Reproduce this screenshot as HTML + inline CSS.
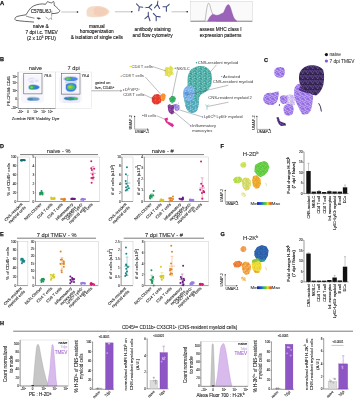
<!DOCTYPE html>
<html><head><meta charset="utf-8"><style>
html,body{margin:0;padding:0;background:#fff;}
svg{display:block;font-family:"Liberation Sans", sans-serif;will-change:transform;}
</style></head><body>
<svg width="355" height="400" viewBox="0 0 355 400">
<rect width="355" height="400" fill="#fff"/>
<defs><pattern id="pTeal" patternUnits="userSpaceOnUse" width="5" height="5"><rect width="5" height="5" fill="#44aca5"/><circle cx="2.26" cy="2.80" r="0.28" fill="#d6efec"/><circle cx="4.62" cy="2.33" r="0.28" fill="#d6efec"/><circle cx="2.54" cy="2.94" r="0.28" fill="#d6efec"/><circle cx="0.92" cy="2.56" r="0.28" fill="#d6efec"/><circle cx="3.15" cy="3.96" r="0.28" fill="#d6efec"/><circle cx="0.47" cy="1.52" r="0.28" fill="#d6efec"/><circle cx="0.45" cy="4.05" r="0.28" fill="#d6efec"/><circle cx="3.47" cy="0.21" r="0.28" fill="#d6efec"/><circle cx="4.91" cy="4.82" r="0.28" fill="#d6efec"/><circle cx="3.27" cy="3.08" r="0.28" fill="#d6efec"/><circle cx="0.79" cy="0.08" r="0.28" fill="#d6efec"/><circle cx="2.64" cy="0.30" r="0.28" fill="#d6efec"/><circle cx="0.95" cy="1.21" r="0.28" fill="#d6efec"/><circle cx="0.15" cy="2.32" r="0.28" fill="#d6efec"/><circle cx="2.20" cy="4.21" r="0.28" fill="#d6efec"/><circle cx="2.60" cy="3.20" r="0.28" fill="#d6efec"/><circle cx="2.50" cy="3.31" r="0.28" fill="#d6efec"/><circle cx="2.29" cy="1.39" r="0.28" fill="#d6efec"/><circle cx="4.99" cy="4.98" r="0.28" fill="#d6efec"/><circle cx="4.20" cy="3.54" r="0.28" fill="#d6efec"/><circle cx="1.58" cy="1.15" r="0.28" fill="#d6efec"/><circle cx="1.45" cy="0.35" r="0.28" fill="#d6efec"/><circle cx="3.83" cy="2.00" r="0.28" fill="#d6efec"/><circle cx="4.23" cy="1.93" r="0.28" fill="#d6efec"/><circle cx="4.79" cy="4.24" r="0.28" fill="#d6efec"/><circle cx="0.00" cy="1.05" r="0.28" fill="#d6efec"/><circle cx="4.55" cy="2.35" r="0.28" fill="#d6efec"/><circle cx="4.90" cy="1.99" r="0.28" fill="#d6efec"/><circle cx="0.37" cy="3.15" r="0.3" fill="#1f807a"/><circle cx="3.89" cy="1.35" r="0.3" fill="#1f807a"/><circle cx="0.44" cy="1.66" r="0.3" fill="#1f807a"/><circle cx="4.82" cy="3.79" r="0.3" fill="#1f807a"/><circle cx="0.59" cy="1.23" r="0.3" fill="#1f807a"/><circle cx="0.51" cy="0.30" r="0.3" fill="#1f807a"/><circle cx="3.99" cy="0.89" r="0.3" fill="#1f807a"/><circle cx="2.80" cy="2.24" r="0.3" fill="#1f807a"/><circle cx="0.95" cy="3.66" r="0.3" fill="#1f807a"/><circle cx="0.65" cy="3.22" r="0.3" fill="#1f807a"/><circle cx="0.58" cy="2.10" r="0.3" fill="#1f807a"/><circle cx="1.06" cy="1.35" r="0.3" fill="#1f807a"/><circle cx="4.85" cy="4.02" r="0.3" fill="#1f807a"/><circle cx="1.52" cy="4.42" r="0.3" fill="#1f807a"/></pattern><pattern id="pTeal2" patternUnits="userSpaceOnUse" width="5" height="5"><rect width="5" height="5" fill="#52aebf"/><circle cx="2.37" cy="3.29" r="0.28" fill="#e0f2f4"/><circle cx="3.33" cy="0.71" r="0.28" fill="#e0f2f4"/><circle cx="0.05" cy="1.87" r="0.28" fill="#e0f2f4"/><circle cx="1.37" cy="4.05" r="0.28" fill="#e0f2f4"/><circle cx="3.45" cy="3.01" r="0.28" fill="#e0f2f4"/><circle cx="2.79" cy="3.31" r="0.28" fill="#e0f2f4"/><circle cx="0.73" cy="2.20" r="0.28" fill="#e0f2f4"/><circle cx="0.81" cy="4.53" r="0.28" fill="#e0f2f4"/><circle cx="0.29" cy="4.09" r="0.28" fill="#e0f2f4"/><circle cx="0.37" cy="3.43" r="0.28" fill="#e0f2f4"/><circle cx="1.68" cy="2.02" r="0.28" fill="#e0f2f4"/><circle cx="4.21" cy="0.09" r="0.28" fill="#e0f2f4"/><circle cx="0.30" cy="4.58" r="0.28" fill="#e0f2f4"/><circle cx="2.54" cy="0.45" r="0.28" fill="#e0f2f4"/><circle cx="4.94" cy="4.73" r="0.28" fill="#e0f2f4"/><circle cx="0.56" cy="2.12" r="0.28" fill="#e0f2f4"/><circle cx="0.68" cy="1.56" r="0.28" fill="#e0f2f4"/><circle cx="3.11" cy="0.82" r="0.28" fill="#e0f2f4"/><circle cx="3.48" cy="0.26" r="0.28" fill="#e0f2f4"/><circle cx="0.86" cy="4.08" r="0.28" fill="#e0f2f4"/><circle cx="2.00" cy="2.09" r="0.3" fill="#2a8a84"/><circle cx="2.98" cy="2.38" r="0.3" fill="#2a8a84"/><circle cx="1.92" cy="0.15" r="0.3" fill="#2a8a84"/><circle cx="3.63" cy="4.84" r="0.3" fill="#2a8a84"/><circle cx="4.88" cy="3.32" r="0.3" fill="#2a8a84"/><circle cx="1.78" cy="1.82" r="0.3" fill="#2a8a84"/><circle cx="3.45" cy="3.37" r="0.3" fill="#2a8a84"/><circle cx="0.57" cy="1.17" r="0.3" fill="#2a8a84"/><circle cx="1.82" cy="2.56" r="0.3" fill="#2a8a84"/><circle cx="4.05" cy="2.50" r="0.3" fill="#2a8a84"/><circle cx="0.14" cy="4.11" r="0.3" fill="#6aa8e6"/><circle cx="2.15" cy="2.59" r="0.3" fill="#6aa8e6"/><circle cx="1.11" cy="2.14" r="0.3" fill="#6aa8e6"/><circle cx="1.94" cy="3.86" r="0.3" fill="#6aa8e6"/><circle cx="0.51" cy="2.75" r="0.3" fill="#6aa8e6"/><circle cx="0.89" cy="3.48" r="0.3" fill="#6aa8e6"/><circle cx="0.18" cy="1.38" r="0.3" fill="#6aa8e6"/><circle cx="1.72" cy="3.18" r="0.3" fill="#6aa8e6"/></pattern><pattern id="pBlue" patternUnits="userSpaceOnUse" width="5" height="5"><rect width="5" height="5" fill="#7ab2ea"/><circle cx="1.30" cy="3.43" r="0.3" fill="#e0eefa"/><circle cx="3.42" cy="4.25" r="0.3" fill="#e0eefa"/><circle cx="0.93" cy="1.15" r="0.3" fill="#e0eefa"/><circle cx="0.74" cy="1.13" r="0.3" fill="#e0eefa"/><circle cx="3.67" cy="0.65" r="0.3" fill="#e0eefa"/><circle cx="2.66" cy="1.07" r="0.3" fill="#e0eefa"/><circle cx="1.47" cy="2.16" r="0.3" fill="#e0eefa"/><circle cx="4.19" cy="3.04" r="0.3" fill="#e0eefa"/><circle cx="0.07" cy="1.38" r="0.3" fill="#e0eefa"/><circle cx="0.73" cy="4.36" r="0.3" fill="#e0eefa"/><circle cx="4.05" cy="4.03" r="0.3" fill="#e0eefa"/><circle cx="4.13" cy="3.72" r="0.3" fill="#e0eefa"/><circle cx="4.75" cy="3.97" r="0.3" fill="#e0eefa"/><circle cx="1.28" cy="4.25" r="0.3" fill="#e0eefa"/><circle cx="2.43" cy="3.78" r="0.3" fill="#e0eefa"/><circle cx="2.82" cy="2.15" r="0.3" fill="#e0eefa"/><circle cx="1.82" cy="2.15" r="0.34" fill="#4a8ade"/><circle cx="1.57" cy="0.59" r="0.34" fill="#4a8ade"/><circle cx="4.10" cy="3.99" r="0.34" fill="#4a8ade"/><circle cx="4.93" cy="3.45" r="0.34" fill="#4a8ade"/><circle cx="2.77" cy="3.74" r="0.34" fill="#4a8ade"/><circle cx="0.67" cy="3.38" r="0.34" fill="#4a8ade"/><circle cx="2.22" cy="0.88" r="0.34" fill="#4a8ade"/><circle cx="1.01" cy="2.61" r="0.34" fill="#4a8ade"/><circle cx="1.27" cy="2.30" r="0.34" fill="#4a8ade"/><circle cx="3.03" cy="1.98" r="0.34" fill="#4a8ade"/><circle cx="0.65" cy="2.45" r="0.34" fill="#4a8ade"/><circle cx="1.18" cy="1.18" r="0.34" fill="#4a8ade"/></pattern><pattern id="pYel" patternUnits="userSpaceOnUse" width="4" height="4"><rect width="4" height="4" fill="#e4e03a"/><circle cx="0.43" cy="2.81" r="0.34" fill="#f6f4b0"/><circle cx="2.61" cy="3.76" r="0.34" fill="#f6f4b0"/><circle cx="1.08" cy="1.02" r="0.34" fill="#f6f4b0"/><circle cx="2.94" cy="2.63" r="0.34" fill="#f6f4b0"/><circle cx="1.21" cy="2.74" r="0.34" fill="#f6f4b0"/><circle cx="1.59" cy="3.11" r="0.34" fill="#f6f4b0"/><circle cx="0.47" cy="0.89" r="0.34" fill="#f6f4b0"/><circle cx="3.61" cy="1.43" r="0.34" fill="#f6f4b0"/><circle cx="1.04" cy="3.22" r="0.34" fill="#f6f4b0"/><circle cx="2.53" cy="0.60" r="0.34" fill="#f6f4b0"/><circle cx="2.21" cy="2.66" r="0.34" fill="#f6f4b0"/><circle cx="0.66" cy="2.61" r="0.34" fill="#f6f4b0"/><circle cx="0.49" cy="1.35" r="0.34" fill="#f6f4b0"/><circle cx="0.33" cy="0.82" r="0.34" fill="#f6f4b0"/><circle cx="3.91" cy="1.61" r="0.3" fill="#c8c820"/><circle cx="3.96" cy="1.75" r="0.3" fill="#c8c820"/><circle cx="2.43" cy="3.49" r="0.3" fill="#c8c820"/><circle cx="2.75" cy="0.45" r="0.3" fill="#c8c820"/><circle cx="2.36" cy="2.53" r="0.3" fill="#c8c820"/><circle cx="0.72" cy="0.38" r="0.3" fill="#c8c820"/></pattern><pattern id="pRed" patternUnits="userSpaceOnUse" width="4" height="4"><rect width="4" height="4" fill="#e8382c"/><circle cx="3.86" cy="0.05" r="0.34" fill="#f3806a"/><circle cx="2.94" cy="0.63" r="0.34" fill="#f3806a"/><circle cx="3.95" cy="0.07" r="0.34" fill="#f3806a"/><circle cx="3.52" cy="2.73" r="0.34" fill="#f3806a"/><circle cx="3.43" cy="4.00" r="0.34" fill="#f3806a"/><circle cx="0.96" cy="1.35" r="0.34" fill="#f3806a"/><circle cx="2.83" cy="1.12" r="0.34" fill="#f3806a"/><circle cx="1.05" cy="0.91" r="0.34" fill="#f3806a"/><circle cx="3.43" cy="3.50" r="0.34" fill="#f3806a"/><circle cx="3.19" cy="0.89" r="0.34" fill="#f3806a"/><circle cx="3.70" cy="2.05" r="0.3" fill="#c82020"/><circle cx="0.93" cy="1.82" r="0.3" fill="#c82020"/><circle cx="1.68" cy="0.32" r="0.3" fill="#c82020"/><circle cx="2.26" cy="1.44" r="0.3" fill="#c82020"/><circle cx="2.28" cy="3.72" r="0.3" fill="#c82020"/><circle cx="2.58" cy="1.62" r="0.3" fill="#c82020"/></pattern><pattern id="pOra" patternUnits="userSpaceOnUse" width="4" height="4"><rect width="4" height="4" fill="#f4912c"/><circle cx="1.45" cy="1.92" r="0.34" fill="#f8c080"/><circle cx="1.67" cy="1.79" r="0.34" fill="#f8c080"/><circle cx="1.64" cy="2.63" r="0.34" fill="#f8c080"/><circle cx="1.04" cy="2.54" r="0.34" fill="#f8c080"/><circle cx="0.04" cy="1.21" r="0.34" fill="#f8c080"/><circle cx="1.34" cy="0.57" r="0.34" fill="#f8c080"/><circle cx="2.97" cy="1.24" r="0.34" fill="#f8c080"/><circle cx="3.16" cy="3.82" r="0.34" fill="#f8c080"/></pattern><pattern id="pGrn" patternUnits="userSpaceOnUse" width="4" height="4"><rect width="4" height="4" fill="#2fae5c"/><circle cx="2.09" cy="3.23" r="0.32" fill="#80d098"/><circle cx="3.84" cy="1.16" r="0.32" fill="#80d098"/><circle cx="3.06" cy="2.82" r="0.32" fill="#80d098"/><circle cx="2.65" cy="0.44" r="0.32" fill="#80d098"/><circle cx="0.11" cy="1.54" r="0.32" fill="#80d098"/><circle cx="2.99" cy="1.01" r="0.32" fill="#80d098"/><circle cx="2.01" cy="1.27" r="0.32" fill="#80d098"/><circle cx="3.39" cy="3.78" r="0.32" fill="#80d098"/><circle cx="1.61" cy="3.99" r="0.3" fill="#1c8e48"/><circle cx="0.25" cy="3.25" r="0.3" fill="#1c8e48"/><circle cx="3.50" cy="0.60" r="0.3" fill="#1c8e48"/><circle cx="2.82" cy="2.24" r="0.3" fill="#1c8e48"/><circle cx="3.82" cy="0.84" r="0.3" fill="#1c8e48"/></pattern><pattern id="pPur" patternUnits="userSpaceOnUse" width="4" height="4"><rect width="4" height="4" fill="#7f3294"/><circle cx="0.73" cy="2.65" r="0.32" fill="#c8a8e0"/><circle cx="1.34" cy="0.79" r="0.32" fill="#c8a8e0"/><circle cx="1.96" cy="1.98" r="0.32" fill="#c8a8e0"/><circle cx="1.92" cy="1.83" r="0.32" fill="#c8a8e0"/><circle cx="1.06" cy="1.02" r="0.32" fill="#c8a8e0"/><circle cx="2.77" cy="1.30" r="0.32" fill="#c8a8e0"/><circle cx="2.70" cy="3.15" r="0.32" fill="#c8a8e0"/><circle cx="3.46" cy="3.78" r="0.32" fill="#c8a8e0"/><circle cx="0.94" cy="0.95" r="0.32" fill="#c8a8e0"/><circle cx="2.94" cy="2.30" r="0.32" fill="#c8a8e0"/><circle cx="0.81" cy="2.71" r="0.3" fill="#5a1a70"/><circle cx="3.49" cy="3.34" r="0.3" fill="#5a1a70"/><circle cx="0.86" cy="1.20" r="0.3" fill="#5a1a70"/><circle cx="0.03" cy="3.90" r="0.3" fill="#5a1a70"/><circle cx="0.88" cy="2.91" r="0.3" fill="#5a1a70"/><circle cx="2.15" cy="2.37" r="0.3" fill="#5a1a70"/></pattern><pattern id="pLav" patternUnits="userSpaceOnUse" width="4" height="4"><rect width="4" height="4" fill="#9e84dc"/><circle cx="2.71" cy="3.14" r="0.32" fill="#e0d8f4"/><circle cx="2.08" cy="2.05" r="0.32" fill="#e0d8f4"/><circle cx="1.57" cy="3.99" r="0.32" fill="#e0d8f4"/><circle cx="1.16" cy="0.59" r="0.32" fill="#e0d8f4"/><circle cx="1.04" cy="1.04" r="0.32" fill="#e0d8f4"/><circle cx="1.31" cy="1.07" r="0.32" fill="#e0d8f4"/><circle cx="0.43" cy="1.30" r="0.32" fill="#e0d8f4"/><circle cx="1.24" cy="2.28" r="0.32" fill="#e0d8f4"/><circle cx="0.81" cy="0.28" r="0.32" fill="#e0d8f4"/><circle cx="0.81" cy="2.17" r="0.32" fill="#e0d8f4"/><circle cx="1.55" cy="2.93" r="0.3" fill="#7c5cc8"/><circle cx="3.21" cy="1.66" r="0.3" fill="#7c5cc8"/><circle cx="0.40" cy="2.91" r="0.3" fill="#7c5cc8"/><circle cx="3.02" cy="1.58" r="0.3" fill="#7c5cc8"/><circle cx="2.63" cy="1.20" r="0.3" fill="#7c5cc8"/><circle cx="3.66" cy="3.34" r="0.3" fill="#7c5cc8"/></pattern><pattern id="pMag" patternUnits="userSpaceOnUse" width="4" height="4"><rect width="4" height="4" fill="#e0288c"/><circle cx="3.62" cy="2.75" r="0.3" fill="#f080c0"/><circle cx="3.07" cy="3.62" r="0.3" fill="#f080c0"/><circle cx="1.04" cy="2.54" r="0.3" fill="#f080c0"/><circle cx="3.62" cy="3.49" r="0.3" fill="#f080c0"/><circle cx="2.29" cy="0.68" r="0.3" fill="#f080c0"/><circle cx="1.65" cy="3.98" r="0.3" fill="#f080c0"/></pattern><pattern id="pCP" patternUnits="userSpaceOnUse" width="5" height="5"><rect width="5" height="5" fill="#9a72e8"/><circle cx="0.82" cy="3.45" r="0.32" fill="#f0eafc"/><circle cx="3.17" cy="2.40" r="0.32" fill="#f0eafc"/><circle cx="1.08" cy="3.96" r="0.32" fill="#f0eafc"/><circle cx="4.04" cy="2.56" r="0.32" fill="#f0eafc"/><circle cx="2.53" cy="1.18" r="0.32" fill="#f0eafc"/><circle cx="0.02" cy="1.86" r="0.32" fill="#f0eafc"/><circle cx="2.93" cy="0.35" r="0.32" fill="#f0eafc"/><circle cx="3.97" cy="1.16" r="0.32" fill="#f0eafc"/><circle cx="1.16" cy="0.21" r="0.32" fill="#f0eafc"/><circle cx="4.99" cy="3.69" r="0.32" fill="#f0eafc"/><circle cx="4.38" cy="3.08" r="0.32" fill="#f0eafc"/><circle cx="0.17" cy="1.64" r="0.32" fill="#f0eafc"/><circle cx="2.49" cy="0.58" r="0.32" fill="#f0eafc"/><circle cx="4.76" cy="1.84" r="0.32" fill="#f0eafc"/><circle cx="0.77" cy="4.09" r="0.32" fill="#f0eafc"/><circle cx="0.62" cy="4.64" r="0.32" fill="#f0eafc"/><circle cx="2.27" cy="2.76" r="0.32" fill="#f0eafc"/><circle cx="1.71" cy="2.42" r="0.32" fill="#f0eafc"/><circle cx="0.93" cy="0.19" r="0.32" fill="#f0eafc"/><circle cx="4.33" cy="1.17" r="0.32" fill="#f0eafc"/><circle cx="3.90" cy="1.04" r="0.32" fill="#f0eafc"/><circle cx="4.84" cy="4.47" r="0.32" fill="#f0eafc"/><circle cx="3.77" cy="3.81" r="0.3" fill="#6d44c4"/><circle cx="2.90" cy="3.65" r="0.3" fill="#6d44c4"/><circle cx="0.61" cy="2.38" r="0.3" fill="#6d44c4"/><circle cx="4.14" cy="1.01" r="0.3" fill="#6d44c4"/><circle cx="4.62" cy="4.44" r="0.3" fill="#6d44c4"/><circle cx="2.05" cy="1.83" r="0.3" fill="#6d44c4"/><circle cx="2.26" cy="1.93" r="0.3" fill="#6d44c4"/><circle cx="4.97" cy="1.93" r="0.3" fill="#6d44c4"/><circle cx="0.13" cy="0.47" r="0.3" fill="#6d44c4"/><circle cx="3.59" cy="4.96" r="0.3" fill="#6d44c4"/></pattern><pattern id="pCP2" patternUnits="userSpaceOnUse" width="5" height="5"><rect width="5" height="5" fill="#9d76e2"/><circle cx="4.79" cy="0.70" r="0.36" fill="#ffffff"/><circle cx="0.12" cy="4.99" r="0.36" fill="#ffffff"/><circle cx="0.92" cy="0.60" r="0.36" fill="#ffffff"/><circle cx="3.26" cy="1.73" r="0.36" fill="#ffffff"/><circle cx="4.45" cy="1.16" r="0.36" fill="#ffffff"/><circle cx="4.80" cy="1.60" r="0.36" fill="#ffffff"/><circle cx="3.01" cy="4.66" r="0.36" fill="#ffffff"/><circle cx="3.43" cy="4.62" r="0.36" fill="#ffffff"/><circle cx="3.54" cy="0.24" r="0.36" fill="#ffffff"/><circle cx="4.41" cy="2.95" r="0.36" fill="#ffffff"/><circle cx="1.55" cy="0.95" r="0.36" fill="#ffffff"/><circle cx="4.25" cy="2.91" r="0.36" fill="#ffffff"/><circle cx="4.69" cy="3.87" r="0.36" fill="#ffffff"/><circle cx="4.81" cy="2.83" r="0.36" fill="#ffffff"/><circle cx="3.49" cy="3.06" r="0.36" fill="#ffffff"/><circle cx="1.29" cy="4.78" r="0.36" fill="#ffffff"/><circle cx="1.56" cy="3.91" r="0.36" fill="#ffffff"/><circle cx="4.77" cy="3.25" r="0.36" fill="#ffffff"/><circle cx="0.71" cy="4.13" r="0.36" fill="#ffffff"/><circle cx="3.34" cy="0.93" r="0.36" fill="#ffffff"/><circle cx="0.25" cy="2.66" r="0.36" fill="#ffffff"/><circle cx="0.16" cy="4.63" r="0.36" fill="#ffffff"/><circle cx="2.53" cy="2.59" r="0.36" fill="#ffffff"/><circle cx="2.05" cy="3.30" r="0.36" fill="#ffffff"/><circle cx="4.58" cy="1.54" r="0.36" fill="#ffffff"/><circle cx="1.87" cy="2.91" r="0.36" fill="#ffffff"/><circle cx="1.49" cy="2.98" r="0.3" fill="#6d44c4"/><circle cx="2.72" cy="2.17" r="0.3" fill="#6d44c4"/><circle cx="3.37" cy="2.64" r="0.3" fill="#6d44c4"/><circle cx="0.44" cy="4.98" r="0.3" fill="#6d44c4"/><circle cx="1.78" cy="2.16" r="0.3" fill="#6d44c4"/><circle cx="2.01" cy="4.65" r="0.3" fill="#6d44c4"/><circle cx="4.76" cy="2.56" r="0.3" fill="#6d44c4"/><circle cx="2.00" cy="0.48" r="0.3" fill="#6d44c4"/></pattern><pattern id="pCD" patternUnits="userSpaceOnUse" width="5" height="5"><rect width="5" height="5" fill="#36264f"/><circle cx="4.62" cy="4.74" r="0.3" fill="#8868d4"/><circle cx="4.46" cy="0.42" r="0.3" fill="#8868d4"/><circle cx="2.96" cy="2.12" r="0.3" fill="#8868d4"/><circle cx="2.65" cy="0.65" r="0.3" fill="#8868d4"/><circle cx="0.96" cy="2.22" r="0.3" fill="#8868d4"/><circle cx="1.11" cy="2.28" r="0.3" fill="#8868d4"/><circle cx="0.12" cy="0.43" r="0.3" fill="#8868d4"/><circle cx="3.55" cy="2.11" r="0.3" fill="#8868d4"/><circle cx="2.56" cy="3.67" r="0.3" fill="#8868d4"/><circle cx="1.79" cy="0.29" r="0.3" fill="#8868d4"/><circle cx="3.92" cy="2.95" r="0.3" fill="#8868d4"/><circle cx="3.29" cy="3.10" r="0.3" fill="#8868d4"/><circle cx="4.85" cy="1.81" r="0.3" fill="#8868d4"/><circle cx="3.80" cy="1.84" r="0.3" fill="#8868d4"/><circle cx="2.86" cy="3.30" r="0.3" fill="#8868d4"/><circle cx="1.57" cy="0.43" r="0.3" fill="#8868d4"/><circle cx="2.37" cy="3.59" r="0.3" fill="#8868d4"/><circle cx="2.95" cy="2.24" r="0.3" fill="#8868d4"/><circle cx="3.21" cy="0.91" r="0.3" fill="#8868d4"/><circle cx="0.89" cy="1.62" r="0.3" fill="#8868d4"/><circle cx="4.08" cy="0.98" r="0.3" fill="#8868d4"/><circle cx="0.57" cy="0.49" r="0.3" fill="#8868d4"/><circle cx="0.19" cy="1.38" r="0.3" fill="#8868d4"/><circle cx="2.86" cy="4.10" r="0.3" fill="#8868d4"/><circle cx="1.65" cy="1.85" r="0.3" fill="#8868d4"/><circle cx="1.44" cy="1.52" r="0.3" fill="#8868d4"/><circle cx="3.89" cy="2.74" r="0.3" fill="#120a20"/><circle cx="1.29" cy="0.54" r="0.3" fill="#120a20"/><circle cx="3.92" cy="3.54" r="0.3" fill="#120a20"/><circle cx="4.14" cy="1.19" r="0.3" fill="#120a20"/><circle cx="2.73" cy="4.59" r="0.3" fill="#120a20"/><circle cx="2.96" cy="4.73" r="0.3" fill="#120a20"/><circle cx="0.84" cy="4.88" r="0.3" fill="#120a20"/><circle cx="0.28" cy="2.08" r="0.3" fill="#120a20"/><circle cx="0.12" cy="4.05" r="0.3" fill="#120a20"/><circle cx="3.44" cy="4.87" r="0.3" fill="#120a20"/><circle cx="4.02" cy="4.74" r="0.3" fill="#120a20"/><circle cx="2.69" cy="4.94" r="0.3" fill="#120a20"/></pattern><pattern id="pCM" patternUnits="userSpaceOnUse" width="5" height="5"><rect width="5" height="5" fill="#4a2f78"/><circle cx="3.56" cy="4.20" r="0.32" fill="#9a78e0"/><circle cx="0.91" cy="4.99" r="0.32" fill="#9a78e0"/><circle cx="0.97" cy="3.35" r="0.32" fill="#9a78e0"/><circle cx="0.46" cy="3.79" r="0.32" fill="#9a78e0"/><circle cx="0.76" cy="3.53" r="0.32" fill="#9a78e0"/><circle cx="3.62" cy="3.83" r="0.32" fill="#9a78e0"/><circle cx="2.21" cy="4.33" r="0.32" fill="#9a78e0"/><circle cx="4.94" cy="0.58" r="0.32" fill="#9a78e0"/><circle cx="2.58" cy="4.79" r="0.32" fill="#9a78e0"/><circle cx="3.70" cy="2.22" r="0.32" fill="#9a78e0"/><circle cx="1.52" cy="4.77" r="0.32" fill="#9a78e0"/><circle cx="0.43" cy="3.80" r="0.32" fill="#9a78e0"/><circle cx="4.22" cy="0.79" r="0.32" fill="#9a78e0"/><circle cx="1.63" cy="1.53" r="0.32" fill="#9a78e0"/><circle cx="2.71" cy="1.83" r="0.3" fill="#1a1030"/><circle cx="4.47" cy="4.62" r="0.3" fill="#1a1030"/><circle cx="1.58" cy="4.47" r="0.3" fill="#1a1030"/><circle cx="0.35" cy="0.48" r="0.3" fill="#1a1030"/><circle cx="3.33" cy="4.00" r="0.3" fill="#1a1030"/><circle cx="4.10" cy="4.96" r="0.3" fill="#1a1030"/><circle cx="4.30" cy="1.33" r="0.3" fill="#1a1030"/><circle cx="3.71" cy="4.62" r="0.3" fill="#1a1030"/></pattern><pattern id="pFbig" patternUnits="userSpaceOnUse" width="5" height="5"><rect width="5" height="5" fill="#5ccc42"/><circle cx="0.06" cy="0.56" r="0.4" fill="#9ae468"/><circle cx="1.96" cy="3.42" r="0.4" fill="#9ae468"/><circle cx="0.69" cy="0.56" r="0.4" fill="#9ae468"/><circle cx="1.16" cy="3.79" r="0.4" fill="#9ae468"/><circle cx="0.74" cy="3.70" r="0.4" fill="#9ae468"/><circle cx="3.31" cy="0.68" r="0.4" fill="#9ae468"/><circle cx="2.68" cy="2.24" r="0.4" fill="#9ae468"/><circle cx="2.06" cy="4.98" r="0.4" fill="#9ae468"/><circle cx="0.47" cy="0.10" r="0.4" fill="#9ae468"/><circle cx="4.70" cy="2.01" r="0.4" fill="#9ae468"/><circle cx="0.99" cy="1.65" r="0.4" fill="#9ae468"/><circle cx="1.82" cy="4.78" r="0.4" fill="#9ae468"/><circle cx="1.05" cy="1.08" r="0.4" fill="#9ae468"/><circle cx="2.92" cy="2.74" r="0.4" fill="#9ae468"/><circle cx="4.77" cy="4.19" r="0.4" fill="#3cb830"/><circle cx="1.78" cy="1.02" r="0.4" fill="#3cb830"/><circle cx="4.18" cy="4.94" r="0.4" fill="#3cb830"/><circle cx="0.15" cy="3.68" r="0.4" fill="#3cb830"/><circle cx="4.34" cy="3.26" r="0.4" fill="#3cb830"/><circle cx="1.09" cy="3.98" r="0.4" fill="#3cb830"/><circle cx="3.65" cy="0.97" r="0.4" fill="#3cb830"/><circle cx="3.20" cy="1.10" r="0.4" fill="#3cb830"/><circle cx="0.21" cy="1.68" r="0.4" fill="#3cb830"/><circle cx="1.67" cy="1.98" r="0.4" fill="#3cb830"/><circle cx="3.23" cy="4.18" r="0.4" fill="#c8e040"/><circle cx="4.81" cy="4.88" r="0.4" fill="#c8e040"/><circle cx="4.97" cy="3.95" r="0.4" fill="#c8e040"/><circle cx="1.53" cy="0.88" r="0.4" fill="#c8e040"/></pattern><pattern id="pFora" patternUnits="userSpaceOnUse" width="5" height="5"><rect width="5" height="5" fill="#f0a828"/><circle cx="0.39" cy="1.07" r="0.42" fill="#f4cc48"/><circle cx="1.52" cy="4.50" r="0.42" fill="#f4cc48"/><circle cx="2.48" cy="3.60" r="0.42" fill="#f4cc48"/><circle cx="0.50" cy="2.54" r="0.42" fill="#f4cc48"/><circle cx="4.22" cy="2.61" r="0.42" fill="#f4cc48"/><circle cx="4.72" cy="4.41" r="0.42" fill="#f4cc48"/><circle cx="1.85" cy="0.00" r="0.42" fill="#f4cc48"/><circle cx="3.78" cy="0.63" r="0.42" fill="#f4cc48"/><circle cx="0.05" cy="3.65" r="0.42" fill="#f4cc48"/><circle cx="4.21" cy="4.18" r="0.42" fill="#f4cc48"/><circle cx="4.77" cy="1.01" r="0.42" fill="#f4cc48"/><circle cx="0.41" cy="0.60" r="0.42" fill="#f4cc48"/><circle cx="4.89" cy="0.56" r="0.42" fill="#e88a20"/><circle cx="0.80" cy="0.10" r="0.42" fill="#e88a20"/><circle cx="0.25" cy="0.19" r="0.42" fill="#e88a20"/><circle cx="1.77" cy="0.82" r="0.42" fill="#e88a20"/><circle cx="1.55" cy="4.64" r="0.42" fill="#e88a20"/><circle cx="0.84" cy="4.07" r="0.42" fill="#e88a20"/><circle cx="3.69" cy="2.84" r="0.42" fill="#e88a20"/><circle cx="2.88" cy="3.85" r="0.42" fill="#e88a20"/></pattern><pattern id="pFlc" patternUnits="userSpaceOnUse" width="5" height="5"><rect width="5" height="5" fill="#b8e048"/><circle cx="2.85" cy="3.16" r="0.42" fill="#e8e868"/><circle cx="4.09" cy="1.39" r="0.42" fill="#e8e868"/><circle cx="3.26" cy="4.45" r="0.42" fill="#e8e868"/><circle cx="4.54" cy="0.93" r="0.42" fill="#e8e868"/><circle cx="3.26" cy="3.09" r="0.42" fill="#e8e868"/><circle cx="2.52" cy="4.83" r="0.42" fill="#e8e868"/><circle cx="2.64" cy="2.23" r="0.42" fill="#e8e868"/><circle cx="4.72" cy="3.18" r="0.42" fill="#e8e868"/><circle cx="1.51" cy="1.55" r="0.42" fill="#e8e868"/><circle cx="2.48" cy="0.26" r="0.42" fill="#e8e868"/><circle cx="3.04" cy="3.68" r="0.42" fill="#e8e868"/><circle cx="2.13" cy="4.23" r="0.42" fill="#e8e868"/><circle cx="4.64" cy="2.78" r="0.42" fill="#84d040"/><circle cx="3.41" cy="0.59" r="0.42" fill="#84d040"/><circle cx="0.28" cy="4.90" r="0.42" fill="#84d040"/><circle cx="1.42" cy="1.07" r="0.42" fill="#84d040"/><circle cx="4.48" cy="3.75" r="0.42" fill="#84d040"/><circle cx="0.62" cy="1.61" r="0.42" fill="#84d040"/><circle cx="1.21" cy="1.36" r="0.42" fill="#84d040"/><circle cx="0.03" cy="2.62" r="0.42" fill="#84d040"/></pattern><pattern id="pFmc" patternUnits="userSpaceOnUse" width="5" height="5"><rect width="5" height="5" fill="#d8e070"/><circle cx="2.64" cy="2.93" r="0.4" fill="#ffffff"/><circle cx="4.22" cy="4.49" r="0.4" fill="#ffffff"/><circle cx="4.41" cy="1.82" r="0.4" fill="#ffffff"/><circle cx="4.74" cy="2.12" r="0.4" fill="#ffffff"/><circle cx="1.53" cy="0.47" r="0.4" fill="#ffffff"/><circle cx="2.56" cy="0.77" r="0.42" fill="#f0c040"/><circle cx="1.37" cy="3.05" r="0.42" fill="#f0c040"/><circle cx="3.88" cy="3.76" r="0.42" fill="#f0c040"/><circle cx="0.43" cy="0.31" r="0.42" fill="#f0c040"/><circle cx="1.28" cy="2.76" r="0.42" fill="#f0c040"/><circle cx="4.19" cy="4.00" r="0.42" fill="#f0c040"/><circle cx="4.67" cy="2.94" r="0.42" fill="#f0c040"/><circle cx="3.18" cy="1.46" r="0.42" fill="#f0c040"/><circle cx="1.57" cy="1.03" r="0.42" fill="#a0d848"/><circle cx="2.68" cy="3.04" r="0.42" fill="#a0d848"/><circle cx="2.87" cy="1.96" r="0.42" fill="#a0d848"/><circle cx="2.12" cy="1.24" r="0.42" fill="#a0d848"/><circle cx="4.08" cy="2.91" r="0.42" fill="#a0d848"/><circle cx="3.74" cy="4.06" r="0.42" fill="#a0d848"/><circle cx="1.40" cy="0.59" r="0.42" fill="#a0d848"/><circle cx="1.41" cy="4.54" r="0.42" fill="#a0d848"/></pattern><pattern id="pFsm" patternUnits="userSpaceOnUse" width="4" height="4"><rect width="4" height="4" fill="#c8e050"/><circle cx="2.19" cy="3.00" r="0.4" fill="#e8f080"/><circle cx="2.99" cy="3.46" r="0.4" fill="#e8f080"/><circle cx="1.14" cy="3.86" r="0.4" fill="#e8f080"/><circle cx="2.27" cy="2.99" r="0.4" fill="#e8f080"/><circle cx="3.02" cy="3.72" r="0.4" fill="#e8f080"/><circle cx="1.10" cy="1.47" r="0.4" fill="#e8f080"/><circle cx="2.87" cy="2.34" r="0.4" fill="#e8f080"/><circle cx="3.00" cy="1.46" r="0.4" fill="#e8f080"/></pattern><pattern id="pFlo" patternUnits="userSpaceOnUse" width="4" height="4"><rect width="4" height="4" fill="#ecec9c"/><circle cx="1.31" cy="3.93" r="0.4" fill="#ffffff"/><circle cx="3.84" cy="3.67" r="0.4" fill="#ffffff"/><circle cx="3.16" cy="3.50" r="0.4" fill="#ffffff"/><circle cx="0.00" cy="2.51" r="0.4" fill="#ffffff"/><circle cx="0.99" cy="2.92" r="0.4" fill="#ffffff"/><circle cx="1.73" cy="2.24" r="0.4" fill="#ffffff"/><circle cx="2.17" cy="2.30" r="0.4" fill="#ffffff"/><circle cx="3.31" cy="3.93" r="0.4" fill="#ffffff"/><circle cx="1.38" cy="3.22" r="0.4" fill="#e0d870"/><circle cx="3.56" cy="1.57" r="0.4" fill="#e0d870"/><circle cx="0.49" cy="1.99" r="0.4" fill="#e0d870"/><circle cx="3.06" cy="2.10" r="0.4" fill="#e0d870"/><circle cx="0.74" cy="2.82" r="0.4" fill="#e0d870"/><circle cx="1.30" cy="3.54" r="0.4" fill="#e0d870"/></pattern><pattern id="pGbig" patternUnits="userSpaceOnUse" width="5" height="5"><rect width="5" height="5" fill="#2e62b0"/><circle cx="1.91" cy="1.15" r="0.42" fill="#3e86c8"/><circle cx="0.83" cy="4.57" r="0.42" fill="#3e86c8"/><circle cx="2.89" cy="3.45" r="0.42" fill="#3e86c8"/><circle cx="2.77" cy="1.92" r="0.42" fill="#3e86c8"/><circle cx="3.66" cy="2.88" r="0.42" fill="#3e86c8"/><circle cx="3.91" cy="3.31" r="0.42" fill="#3e86c8"/><circle cx="4.20" cy="2.20" r="0.42" fill="#3e86c8"/><circle cx="0.78" cy="0.75" r="0.42" fill="#3e86c8"/><circle cx="3.62" cy="0.84" r="0.42" fill="#3e86c8"/><circle cx="3.27" cy="3.10" r="0.42" fill="#3e86c8"/><circle cx="0.30" cy="3.92" r="0.42" fill="#3e86c8"/><circle cx="0.17" cy="4.33" r="0.42" fill="#3e86c8"/><circle cx="4.21" cy="1.08" r="0.42" fill="#3e86c8"/><circle cx="3.63" cy="3.66" r="0.42" fill="#3e86c8"/><circle cx="0.63" cy="3.35" r="0.42" fill="#1e4890"/><circle cx="0.62" cy="4.57" r="0.42" fill="#1e4890"/><circle cx="3.44" cy="4.90" r="0.42" fill="#1e4890"/><circle cx="0.27" cy="1.59" r="0.42" fill="#1e4890"/><circle cx="3.10" cy="3.04" r="0.42" fill="#1e4890"/><circle cx="0.91" cy="4.44" r="0.42" fill="#1e4890"/><circle cx="4.23" cy="1.51" r="0.42" fill="#1e4890"/><circle cx="0.73" cy="3.34" r="0.42" fill="#1e4890"/><circle cx="2.04" cy="3.32" r="0.42" fill="#1e4890"/><circle cx="2.47" cy="1.97" r="0.42" fill="#1e4890"/></pattern><pattern id="pGyel" patternUnits="userSpaceOnUse" width="5" height="5"><rect width="5" height="5" fill="#f0dc30"/><circle cx="3.20" cy="0.13" r="0.42" fill="#f8ec70"/><circle cx="1.38" cy="1.12" r="0.42" fill="#f8ec70"/><circle cx="3.68" cy="3.38" r="0.42" fill="#f8ec70"/><circle cx="4.46" cy="0.43" r="0.42" fill="#f8ec70"/><circle cx="2.11" cy="0.15" r="0.42" fill="#f8ec70"/><circle cx="1.09" cy="2.53" r="0.42" fill="#f8ec70"/><circle cx="0.13" cy="0.99" r="0.42" fill="#f8ec70"/><circle cx="3.25" cy="2.72" r="0.42" fill="#f8ec70"/><circle cx="1.10" cy="2.95" r="0.42" fill="#f8ec70"/><circle cx="4.05" cy="0.03" r="0.42" fill="#f8ec70"/><circle cx="4.03" cy="3.49" r="0.42" fill="#f8ec70"/><circle cx="1.70" cy="0.78" r="0.42" fill="#f8ec70"/><circle cx="4.79" cy="1.68" r="0.42" fill="#e8b820"/><circle cx="0.46" cy="0.48" r="0.42" fill="#e8b820"/><circle cx="4.24" cy="3.02" r="0.42" fill="#e8b820"/><circle cx="4.04" cy="3.65" r="0.42" fill="#e8b820"/><circle cx="2.68" cy="4.87" r="0.42" fill="#e8b820"/><circle cx="1.89" cy="2.76" r="0.42" fill="#e8b820"/><circle cx="4.15" cy="3.09" r="0.42" fill="#e8b820"/><circle cx="4.31" cy="2.89" r="0.42" fill="#e8b820"/></pattern><pattern id="pGlc" patternUnits="userSpaceOnUse" width="5" height="5"><rect width="5" height="5" fill="#f07c34"/><circle cx="0.19" cy="3.48" r="0.42" fill="#f4a050"/><circle cx="0.72" cy="2.31" r="0.42" fill="#f4a050"/><circle cx="3.36" cy="3.96" r="0.42" fill="#f4a050"/><circle cx="2.27" cy="2.49" r="0.42" fill="#f4a050"/><circle cx="0.10" cy="2.16" r="0.42" fill="#f4a050"/><circle cx="1.86" cy="4.26" r="0.42" fill="#f4a050"/><circle cx="2.73" cy="3.78" r="0.42" fill="#f4a050"/><circle cx="2.17" cy="0.88" r="0.42" fill="#f4a050"/><circle cx="4.25" cy="4.10" r="0.42" fill="#f4a050"/><circle cx="1.88" cy="0.48" r="0.42" fill="#f4a050"/><circle cx="2.56" cy="2.48" r="0.42" fill="#f4a050"/><circle cx="3.86" cy="2.99" r="0.42" fill="#f4a050"/><circle cx="2.53" cy="2.88" r="0.42" fill="#e06020"/><circle cx="1.88" cy="0.24" r="0.42" fill="#e06020"/><circle cx="0.31" cy="4.71" r="0.42" fill="#e06020"/><circle cx="4.20" cy="1.48" r="0.42" fill="#e06020"/><circle cx="4.44" cy="2.61" r="0.42" fill="#e06020"/><circle cx="0.52" cy="4.28" r="0.42" fill="#e06020"/></pattern><pattern id="pGmc" patternUnits="userSpaceOnUse" width="5" height="5"><rect width="5" height="5" fill="#f0a040"/><circle cx="2.04" cy="2.71" r="0.4" fill="#ffffff"/><circle cx="4.31" cy="0.88" r="0.4" fill="#ffffff"/><circle cx="1.13" cy="0.15" r="0.4" fill="#ffffff"/><circle cx="0.58" cy="0.04" r="0.4" fill="#ffffff"/><circle cx="0.78" cy="2.57" r="0.42" fill="#f8c860"/><circle cx="4.95" cy="3.47" r="0.42" fill="#f8c860"/><circle cx="1.89" cy="2.03" r="0.42" fill="#f8c860"/><circle cx="3.46" cy="1.63" r="0.42" fill="#f8c860"/><circle cx="0.37" cy="4.21" r="0.42" fill="#f8c860"/><circle cx="3.09" cy="0.56" r="0.42" fill="#f8c860"/><circle cx="0.35" cy="0.47" r="0.42" fill="#f8c860"/><circle cx="4.79" cy="0.54" r="0.42" fill="#f8c860"/><circle cx="3.13" cy="4.85" r="0.42" fill="#e87830"/><circle cx="0.18" cy="1.93" r="0.42" fill="#e87830"/><circle cx="2.39" cy="4.58" r="0.42" fill="#e87830"/><circle cx="0.94" cy="1.29" r="0.42" fill="#e87830"/><circle cx="1.24" cy="0.25" r="0.42" fill="#e87830"/><circle cx="3.37" cy="4.08" r="0.42" fill="#e87830"/><circle cx="2.18" cy="0.19" r="0.42" fill="#e87830"/><circle cx="3.57" cy="3.69" r="0.42" fill="#e87830"/></pattern><pattern id="pGsm" patternUnits="userSpaceOnUse" width="4" height="4"><rect width="4" height="4" fill="#f09848"/><circle cx="1.09" cy="1.95" r="0.4" fill="#f8c080"/><circle cx="0.33" cy="1.35" r="0.4" fill="#f8c080"/><circle cx="0.29" cy="0.04" r="0.4" fill="#f8c080"/><circle cx="1.14" cy="0.47" r="0.4" fill="#f8c080"/><circle cx="1.24" cy="2.97" r="0.4" fill="#f8c080"/><circle cx="0.14" cy="2.50" r="0.4" fill="#f8c080"/><circle cx="0.54" cy="3.18" r="0.4" fill="#f8c080"/><circle cx="2.95" cy="0.84" r="0.4" fill="#f8c080"/></pattern><pattern id="pGlo" patternUnits="userSpaceOnUse" width="4" height="4"><rect width="4" height="4" fill="#f2c468"/><circle cx="3.55" cy="1.60" r="0.4" fill="#ffffff"/><circle cx="2.35" cy="3.44" r="0.4" fill="#ffffff"/><circle cx="0.91" cy="2.06" r="0.4" fill="#ffffff"/><circle cx="2.33" cy="3.79" r="0.4" fill="#ffffff"/><circle cx="0.13" cy="0.28" r="0.4" fill="#ffffff"/><circle cx="1.28" cy="3.30" r="0.4" fill="#ffffff"/><circle cx="3.37" cy="0.54" r="0.4" fill="#ffffff"/><circle cx="3.68" cy="2.11" r="0.4" fill="#ffffff"/><circle cx="3.87" cy="3.74" r="0.4" fill="#f0a040"/><circle cx="0.37" cy="3.90" r="0.4" fill="#f0a040"/><circle cx="1.91" cy="0.62" r="0.4" fill="#f0a040"/><circle cx="1.86" cy="0.30" r="0.4" fill="#f0a040"/><circle cx="3.00" cy="2.18" r="0.4" fill="#f0a040"/><circle cx="0.44" cy="0.91" r="0.4" fill="#f0a040"/></pattern></defs>
<text x="0.00" y="5.09" font-size="5.8" fill="#111" stroke="#111" stroke-width="0.25" font-weight="bold">A</text>
<path d="M34,22.1 C28.9,21.6 20.5,21.2 15.8,20.3 C14.5,19.6 14.7,17.7 16.2,16.9 C18,16 22,15.4 26,14.8 C27.5,12.5 29,9.5 31.5,7.3 C34,5.2 38,4.1 42.5,3.9 L45.6,4.3 C46.1,3.5 46.8,2 47.7,1.6 C48.5,2 49.3,2.6 51.8,2.9 C52.5,2.2 53,1.7 53.6,1.5 C54.2,2.5 54.4,4 54,5.1 C55.5,6.3 57.5,8 59.8,10.6 C59.5,12 58.5,12.6 58,12.8 C56,13.4 54,13.6 51.8,13.6" fill="none" stroke="#333" stroke-width="0.75"/>
<path d="M26,16 C28,16.8 31,17.5 34.5,18.2" fill="none" stroke="#3a3a3a" stroke-width="0.6"/>
<path d="M51.8,10.6 L51.6,16.6" fill="none" stroke="#555" stroke-width="0.5"/>
<path d="M36.8,18.0 C38,17.4 39.5,17.6 40.6,18.6 L38.5,19.2 Z" fill="#444" stroke="#444" stroke-width="0.4"/>
<path d="M45.6,17.2 C47,17.6 47.8,18.8 48.8,19.6 C49.8,18.6 50.6,17.9 51.8,17.8 C51.2,18.8 51.5,19.5 52,20" fill="none" stroke="#555" stroke-width="0.5"/>
<text x="40.80" y="12.90" font-size="4.6" text-anchor="middle" fill="#222" stroke="#222" stroke-width="0.13" font-weight="normal">C57BL/6J</text>
<text x="40.80" y="28.00" font-size="4.8" text-anchor="middle" fill="#222" stroke="#222" stroke-width="0.13" font-weight="normal">naive &amp;</text>
<text x="41.60" y="34.10" font-size="4.8" text-anchor="middle" fill="#222" stroke="#222" stroke-width="0.13" font-weight="normal">7 dpi i.c. TMEV</text>
<text x="41.40" y="39.80" font-size="4.8" text-anchor="middle" fill="#222" stroke="#222" stroke-width="0.13" font-weight="normal">(2 x 10<tspan font-size="3" dy="-1.4">5</tspan><tspan dy="1.4"> PFU)</tspan></text>
<line x1="61.20" y1="12.00" x2="77.50" y2="12.00" stroke="#888" stroke-width="0.5"/>
<circle cx="77.50" cy="12.00" r="0.8" fill="#111"/>
<line x1="114.80" y1="11.80" x2="131.80" y2="11.80" stroke="#888" stroke-width="0.5"/>
<circle cx="131.80" cy="11.80" r="0.8" fill="#111"/>
<line x1="171.50" y1="11.80" x2="187.20" y2="11.80" stroke="#888" stroke-width="0.5"/>
<circle cx="187.20" cy="11.80" r="0.8" fill="#111"/>
<path d="M86.6,13.5 C86.2,10 87.5,7.5 91,6.6 C96,5.5 102,5.7 106,8 C108.5,9.5 109.8,11.2 109.4,12.3 C108,14.8 105,16.6 100,17.1 C95,17.5 90,17.3 87.6,16.5 C86.8,15.8 86.6,14.8 86.6,13.5 Z" fill="#f4dac8" stroke="none" stroke-width="0.4"/>
<path d="M94.5,7.8 C99,6.8 104,7.5 106.8,9.6 C108.2,11.5 107,14.2 103.5,15.5 C99.5,16.5 95.5,16 94.2,14.5 C93.2,12.5 93.3,9.5 94.5,7.8 Z" fill="#f3cfb9" stroke="none" stroke-width="0.4"/>
<text x="96.80" y="27.80" font-size="4.8" text-anchor="middle" fill="#222" stroke="#222" stroke-width="0.13" font-weight="normal">manual</text>
<text x="96.80" y="33.40" font-size="4.8" text-anchor="middle" fill="#222" stroke="#222" stroke-width="0.13" font-weight="normal">homogenization</text>
<text x="96.80" y="39.00" font-size="4.8" text-anchor="middle" fill="#222" stroke="#222" stroke-width="0.13" font-weight="normal">&amp; isolation of single cells</text>
<path d="M136.5,3.9 L139.3,6.8 L142.7,7.3 M139.3,6.8 L138.8,10.7" stroke="#454f84" stroke-width="1.1" fill="none" stroke-linecap="round"/>
<path d="M151.7,4.5 L148.9,7.3 L151.7,9.9 M148.9,7.3 L146.2,7.5" stroke="#454f84" stroke-width="1.1" fill="none" stroke-linecap="round"/>
<circle cx="145.4" cy="7.5" r="0.75" fill="#7ad060"/>
<path d="M154.5,7.9 L157.4,4.5 L159.6,8.5 M157.4,4.5 L157.7,1.8" stroke="#454f84" stroke-width="1.1" fill="none" stroke-linecap="round"/>
<circle cx="157.8" cy="1.3" r="0.75" fill="#e07a40"/>
<path d="M163.0,6.8 L166.4,6.8 L169.2,4.5 M166.4,6.8 L166.4,11.3" stroke="#454f84" stroke-width="1.1" fill="none" stroke-linecap="round"/>
<circle cx="169.4" cy="4.3" r="0.75" fill="#6ac070"/>
<path d="M145.0,18.6 L148.3,15.8 L150.0,20.8 M148.3,15.8 L148.3,12.4" stroke="#454f84" stroke-width="1.1" fill="none" stroke-linecap="round"/>
<path d="M153.4,13.5 L156.2,16.3 L160.2,16.9 M156.2,16.3 L156.2,20.8" stroke="#454f84" stroke-width="1.1" fill="none" stroke-linecap="round"/>
<text x="152.60" y="31.00" font-size="4.8" text-anchor="middle" fill="#222" stroke="#222" stroke-width="0.13" font-weight="normal">antibody staining</text>
<text x="152.60" y="36.90" font-size="4.8" text-anchor="middle" fill="#222" stroke="#222" stroke-width="0.13" font-weight="normal">and flow cytometry</text>
<rect x="190.50" y="1.20" width="62.00" height="20.30" fill="#fafafa" stroke="#c8c8c8" stroke-width="0.4"/>
<line x1="190.50" y1="21.30" x2="252.50" y2="21.30" stroke="#777" stroke-width="0.5"/>
<path d="M190.8,21.2 L205,21 C206,15 207,3.5 208.6,3.2 C210,3.4 210.5,9 212,12.5 C213,15 214.5,17.5 216,21 L252,21.2" fill="none" stroke="#666" stroke-width="0.4"/>
<path d="M207.5,21.2 C209,18 210.5,15.5 212.5,14.2 C214,13.8 215.5,15.6 217,15.3 C219.5,15 221,13.5 223,13 C224.5,12 225.5,6 228,4.5 C230,4.5 231,9 232.5,14 C233.5,17.5 235,20 237,21.2 Z" fill="#9c64b8" stroke="#7a4a99" stroke-width="0.3"/>
<text x="220.60" y="30.90" font-size="4.8" text-anchor="middle" fill="#222" stroke="#222" stroke-width="0.13" font-weight="normal">assess MHC class I</text>
<text x="220.60" y="36.80" font-size="4.8" text-anchor="middle" fill="#222" stroke="#222" stroke-width="0.13" font-weight="normal">expression patterns</text>
<text x="0.00" y="61.42" font-size="5.6" fill="#111" stroke="#111" stroke-width="0.25" font-weight="bold">B</text>
<text x="35.50" y="70.30" font-size="5.7" text-anchor="middle" fill="#222" stroke="#222" stroke-width="0.05" font-weight="normal">naive</text>
<text x="73.70" y="70.00" font-size="5.7" text-anchor="middle" fill="#222" stroke="#222" stroke-width="0.05" font-weight="normal">7 dpi</text>
<rect x="18.00" y="72.00" width="37.50" height="36.50" fill="none" stroke="#d0d0d0" stroke-width="0.35"/>
<rect x="55.50" y="72.00" width="36.00" height="36.50" fill="none" stroke="#d0d0d0" stroke-width="0.35"/>
<rect x="21.00" y="75.00" width="23.00" height="28.00" rx="4.00" fill="#f7f6fc" opacity="1"/>
<rect x="19.50" y="84.00" width="4.50" height="5.00" rx="2.00" fill="#fafaea" opacity="1"/>
<ellipse cx="33.20" cy="80.10" rx="6.00" ry="2.40" fill="#f0eefa" opacity="1" transform="rotate(0 33.2 80.1)"/>
<path d="M28.5,79.5 C30,78 32,77.8 33.5,78.6 M30.5,81.2 L33,81.0 M35,80.8 L38.5,81.0 M29.5,82 C31,82.6 33,82.4 34,82" stroke="#b4b8e4" stroke-width="0.4" fill="none"/>
<path d="M28.2,87 C28.4,85 30.5,84.1 33,84.2 C36,84.3 38.5,85 39.8,86.6 C40.2,87.8 39.2,89 37,89.6 C34.5,90.1 31,90.0 29.2,89.4 C28.4,88.8 28.1,88 28.2,87 Z" fill="#9ebff0" stroke="none" stroke-width="0.4"/>
<path d="M29,87.2 C29.2,85.6 31,84.9 33.5,85.0 C36,85.2 38.3,85.8 39.2,87.0 C39.3,88 38.2,88.9 36.4,89.2 C34,89.5 31,89.4 29.6,88.8 C29.1,88.4 28.9,87.8 29,87.2 Z" fill="#3a76e0" stroke="none" stroke-width="0.4"/>
<ellipse cx="32.00" cy="87.30" rx="2.90" ry="1.80" fill="#2fb05a" opacity="1" transform="rotate(0 32.0 87.3)"/>
<ellipse cx="31.60" cy="87.30" rx="1.40" ry="1.10" fill="#8ed040" opacity="1" transform="rotate(0 31.6 87.3)"/>
<path d="M26.8,98.8 C27,97.4 29,96.8 32,96.8 C35.5,96.8 38.8,97.2 39.8,98.4 C40.1,99.6 39,100.7 36,100.9 C33,101.0 29,101.0 27.6,100.4 C27,100 26.8,99.4 26.8,98.8 Z" fill="#a6c6ea" stroke="none" stroke-width="0.4"/>
<path d="M27.4,99.2 C27.6,98.1 29,97.7 31.5,97.7 C34.5,97.7 37.8,98.0 39.0,98.8 C39.2,99.7 38.2,100.4 35.5,100.5 C32.5,100.6 29,100.5 28,100.1 C27.6,99.9 27.4,99.6 27.4,99.2 Z" fill="#6e9cc8" stroke="none" stroke-width="0.4"/>
<ellipse cx="30.60" cy="99.20" rx="2.60" ry="1.00" fill="#4d84a4" opacity="1" transform="rotate(0 30.6 99.2)"/>
<rect x="59.00" y="75.00" width="23.00" height="28.00" rx="4.00" fill="#f6f5fc" opacity="1"/>
<ellipse cx="70.70" cy="78.90" rx="7.60" ry="2.90" fill="#c8d0f4" opacity="1" transform="rotate(0 70.7 78.9)"/>
<ellipse cx="71.00" cy="79.00" rx="6.60" ry="2.10" fill="#4a86e4" opacity="1" transform="rotate(0 71.0 79.0)"/>
<ellipse cx="68.30" cy="79.00" rx="3.00" ry="1.40" fill="#4cc050" opacity="1" transform="rotate(0 68.3 79.0)"/>
<ellipse cx="67.60" cy="79.00" rx="1.20" ry="0.80" fill="#8ad040" opacity="1" transform="rotate(0 67.6 79.0)"/>
<rect x="65.00" y="81.00" width="12.00" height="2.60" rx="1.20" fill="#d2d9f6" opacity="1"/>
<path d="M65.4,85 C65.8,82.8 69,82.3 73,82.5 C76,82.8 77.2,84.5 77.0,87 C76.8,90 74.5,92.2 70.5,92.3 C67.5,92.3 65.6,90.8 65.3,88.5 Z" fill="#c4cdf4" stroke="none" stroke-width="0.4"/>
<path d="M66,85.2 C66.4,83.4 69.5,83 73,83.2 C75.6,83.5 76.5,85 76.3,87.2 C76,90 73.8,91.5 70.5,91.6 C67.8,91.6 66.2,90.3 65.9,88.3 Z" fill="#3a78e2" stroke="none" stroke-width="0.4"/>
<ellipse cx="71.00" cy="87.20" rx="4.10" ry="2.90" fill="#3cbc8a" opacity="1" transform="rotate(0 71.0 87.2)"/>
<ellipse cx="70.30" cy="87.00" rx="2.70" ry="1.80" fill="#80cc40" opacity="1" transform="rotate(0 70.3 87.0)"/>
<ellipse cx="69.90" cy="86.90" rx="1.20" ry="0.90" fill="#d0cc20" opacity="1" transform="rotate(0 69.9 86.9)"/>
<rect x="62.50" y="92.50" width="17.50" height="10.50" rx="2.00" fill="#eeecf8" opacity="1"/>
<ellipse cx="71.00" cy="98.60" rx="7.60" ry="2.50" fill="#c4cdf4" opacity="1" transform="rotate(0 71.0 98.6)"/>
<ellipse cx="70.50" cy="98.60" rx="6.50" ry="1.60" fill="#2e9c78" opacity="1" transform="rotate(0 70.5 98.6)"/>
<ellipse cx="76.00" cy="98.80" rx="1.90" ry="1.40" fill="#46c46a" opacity="1" transform="rotate(0 76.0 98.8)"/>
<ellipse cx="65.80" cy="98.30" rx="1.50" ry="0.80" fill="#3a70c8" opacity="1" transform="rotate(0 65.8 98.3)"/>
<rect x="23.80" y="73.40" width="18.20" height="20.50" fill="none" stroke="#333" stroke-width="0.45"/>
<rect x="61.60" y="73.40" width="18.40" height="20.70" fill="none" stroke="#333" stroke-width="0.45"/>
<text x="43.80" y="77.00" font-size="3.9" text-anchor="start" fill="#222" stroke="#222" stroke-width="0.08" font-weight="normal">79.6</text>
<text x="81.40" y="77.00" font-size="3.9" text-anchor="start" fill="#222" stroke="#222" stroke-width="0.08" font-weight="normal">79.4</text>
<line x1="18.00" y1="72.00" x2="18.00" y2="108.50" stroke="#333" stroke-width="0.45"/>
<line x1="18.00" y1="108.50" x2="55.50" y2="108.50" stroke="#333" stroke-width="0.45"/>
<text x="17.00" y="78.10" font-size="3.0" text-anchor="end" fill="#222" stroke="#222" stroke-width="0.08" font-weight="normal">10<tspan font-size="2.2" dy="-1">5</tspan></text>
<line x1="17.20" y1="77.00" x2="18.00" y2="77.00" stroke="#333" stroke-width="0.35"/>
<text x="17.00" y="84.10" font-size="3.0" text-anchor="end" fill="#222" stroke="#222" stroke-width="0.08" font-weight="normal">10<tspan font-size="2.2" dy="-1">4</tspan></text>
<line x1="17.20" y1="83.00" x2="18.00" y2="83.00" stroke="#333" stroke-width="0.35"/>
<text x="17.00" y="92.40" font-size="3.0" text-anchor="end" fill="#222" stroke="#222" stroke-width="0.08" font-weight="normal">10<tspan font-size="2.2" dy="-1">3</tspan></text>
<line x1="17.20" y1="91.30" x2="18.00" y2="91.30" stroke="#333" stroke-width="0.35"/>
<text x="17.00" y="100.40" font-size="3.0" text-anchor="end" fill="#222" stroke="#222" stroke-width="0.08" font-weight="normal">0</text>
<line x1="17.20" y1="99.30" x2="18.00" y2="99.30" stroke="#333" stroke-width="0.35"/>
<text x="17.00" y="108.50" font-size="3.0" text-anchor="end" fill="#222" stroke="#222" stroke-width="0.08" font-weight="normal">-10<tspan font-size="2.2" dy="-1">3</tspan></text>
<line x1="17.20" y1="107.40" x2="18.00" y2="107.40" stroke="#333" stroke-width="0.35"/>
<line x1="20.50" y1="108.50" x2="20.50" y2="109.30" stroke="#333" stroke-width="0.35"/>
<text x="20.50" y="112.80" font-size="3.0" text-anchor="middle" fill="#222" stroke="#222" stroke-width="0.08" font-weight="normal">-10<tspan font-size="2.2" dy="-1">3</tspan></text>
<line x1="27.90" y1="108.50" x2="27.90" y2="109.30" stroke="#333" stroke-width="0.35"/>
<text x="27.90" y="112.80" font-size="3.0" text-anchor="middle" fill="#222" stroke="#222" stroke-width="0.08" font-weight="normal">0</text>
<line x1="35.50" y1="108.50" x2="35.50" y2="109.30" stroke="#333" stroke-width="0.35"/>
<text x="35.50" y="112.80" font-size="3.0" text-anchor="middle" fill="#222" stroke="#222" stroke-width="0.08" font-weight="normal">10<tspan font-size="2.2" dy="-1">3</tspan></text>
<line x1="43.60" y1="108.50" x2="43.60" y2="109.30" stroke="#333" stroke-width="0.35"/>
<text x="43.60" y="112.80" font-size="3.0" text-anchor="middle" fill="#222" stroke="#222" stroke-width="0.08" font-weight="normal">10<tspan font-size="2.2" dy="-1">4</tspan></text>
<line x1="50.40" y1="108.50" x2="50.40" y2="109.30" stroke="#333" stroke-width="0.35"/>
<text x="50.40" y="112.80" font-size="3.0" text-anchor="middle" fill="#222" stroke="#222" stroke-width="0.08" font-weight="normal">10<tspan font-size="2.2" dy="-1">5</tspan></text>
<text x="9.80" y="91.00" font-size="3.8" text-anchor="middle" fill="#222" stroke="#222" stroke-width="0.08" font-weight="normal" transform="rotate(-90 9.8 91)">PE-CF594: CD45</text>
<text x="35.50" y="120.00" font-size="4.3" text-anchor="middle" fill="#222" stroke="#222" stroke-width="0.08" font-weight="normal">Zombie NIR Viability Dye</text>
<line x1="91.50" y1="90.80" x2="121.50" y2="90.80" stroke="#555" stroke-width="0.45"/>
<path d="M120.2,90.0 L121.8,90.8 L120.2,91.6" fill="none" stroke="#555" stroke-width="0.4"/>
<text x="95.20" y="84.00" font-size="3.9" text-anchor="start" fill="#222" stroke="#222" stroke-width="0.08" font-weight="normal">gated on</text>
<text x="94.80" y="89.00" font-size="3.9" text-anchor="start" fill="#222" stroke="#222" stroke-width="0.08" font-weight="normal">live, CD45<tspan font-size="2.6" dy="-1.2">+</tspan></text>
<path d="M194.2,67.4 C198,66 200,65.8 202.3,66.1 C205.5,66.8 207.5,67.8 209.1,69.4 C211,71.5 211.8,74 211.8,76.9 C212,80 211.8,82.5 211.1,85 C210,87.8 208.8,89.5 207,91 C205,92.6 203,93.5 201,94.4 C199.5,96 199.2,97.8 199,99.8 C198.8,102 198.6,104.3 198.3,106.6 C197.8,109 197,110.8 195.6,112 C194,112.8 192.4,112.9 190.8,112.7 C188.8,111.8 187.6,110.7 186.8,109.3 C185.7,107 185.2,104.8 184.8,102.5 C184.2,99.8 183.5,97 183.4,94.4 C183.6,92.5 184.4,90.6 185.4,89 C186.2,87.5 187,86.3 187.5,85 C187.6,82.7 187.4,80.5 187.5,78.2 C187.8,75.8 188.5,73.6 189.5,71.5 C190.8,69.5 192.4,68.2 194.2,67.4 Z" fill="url(#pTeal)" stroke="none" stroke-width="0.4"/>
<path d="M184.8,100.5 C188,99.5 195,99 199,100 L198.3,106.6 C197.8,109 197,110.8 195.6,112 C194,112.8 192.4,112.9 190.8,112.7 C188.8,111.8 187.6,110.7 186.8,109.3 C185.7,107 185.2,104.8 184.8,102.5 Z" fill="url(#pTeal2)" stroke="none" stroke-width="0.4"/>
<path d="M183.5,90 C185,86.5 188.5,85 192,86 C194.5,87.5 195,91 194.5,94.5 C193.8,98 191.5,100.8 188.5,101.3 C185.8,101.2 184,99 183.3,96 C183,94 183,92 183.5,90 Z" fill="url(#pBlue)" stroke="none" stroke-width="0.4"/>
<ellipse cx="186.60" cy="93.60" rx="2.40" ry="1.80" fill="#4a8ee0" opacity="0.7" transform="rotate(0 186.6 93.6)"/>
<path d="M164.2,70.2 L165.8,66.8 L168.5,67.6 L170.8,65.6 L173.6,68.4 L172.6,71.6 L174.0,74.2 L170.6,75.4 L169.4,77.6 L167.4,76.0 L164.6,75.8 L165.0,73.0 Z" fill="url(#pYel)" stroke="none" stroke-width="0.4"/>
<path d="M151.8,97.5 L154.5,94.4 L158,94.0 L161.2,95.8 L162.0,99.5 L160.6,102.8 L157.5,104.6 L154.2,104.2 L151.8,101.8 Z" fill="url(#pRed)" stroke="none" stroke-width="0.4"/>
<path d="M160.4,95.5 L162,93.5 L164.5,93.6 L165.8,95.5 L165.4,98.5 L163.8,101.2 L161.6,100.8 L160.6,98.5 Z" fill="url(#pOra)" stroke="none" stroke-width="0.4"/>
<path d="M169,98.5 L171.5,96 L174.5,96.2 L176,98.5 L175,101.5 L172.5,103 L170,102 Z" fill="url(#pGrn)" stroke="none" stroke-width="0.4"/>
<path d="M167.6,105.5 L169.5,104 L171.5,105.2 L173.8,104.6 L174.5,107.5 L173.5,110.5 L174.5,113 L171.8,114.6 L169.5,113 L168.2,110.5 Z" fill="url(#pPur)" stroke="none" stroke-width="0.4"/>
<path d="M173.8,104.2 L176.5,103.8 L179.5,105.5 L179.6,108.5 L177.5,111.2 L175.2,110.5 L174.2,108 Z" fill="url(#pLav)" stroke="none" stroke-width="0.4"/>
<circle cx="172" cy="103.2" r="0.6" fill="#b8a0e0"/><circle cx="178.5" cy="103" r="0.5" fill="#b8a0e0"/>
<path d="M164.4,118.4 L167.6,117.6 L168.2,119.8 L166.8,121 L169.5,122.2 L172.6,123.4 L174,125.6 L172.5,127.2 L170.6,126 L168.5,124.5 L166,122.5 L165,120.5 Z" fill="url(#pMag)" stroke="none" stroke-width="0.4"/>
<path d="M205.6,104.4 L207,106.6 L208.4,104.6 M207,106.6 L207,109.8" stroke="#45b0a8" stroke-width="0.55" fill="none"/>
<circle cx="130.20" cy="66.40" r="0.7" fill="#e2df2a"/>
<text x="131.50" y="67.60" font-size="4.15" text-anchor="start" fill="#3a3a3a" stroke="#3a3a3a" stroke-width="0.0" font-weight="normal">CD4 T cells</text>
<line x1="152.80" y1="66.60" x2="166.00" y2="71.00" stroke="#444" stroke-width="0.35"/>
<circle cx="121.20" cy="76.20" r="0.7" fill="#f28a25"/>
<text x="122.50" y="77.40" font-size="4.15" text-anchor="start" fill="#3a3a3a" stroke="#3a3a3a" stroke-width="0.0" font-weight="normal">CD8 T cells</text>
<line x1="145.30" y1="77.00" x2="161.00" y2="94.50" stroke="#444" stroke-width="0.35"/>
<circle cx="123.60" cy="90.00" r="0.7" fill="#e83428"/>
<text x="124.90" y="91.20" font-size="4.15" text-anchor="start" fill="#3a3a3a" stroke="#3a3a3a" stroke-width="0.0" font-weight="normal">D<tspan font-size="2.6" dy="-1">b</tspan><tspan dy="1">:VP2</tspan><tspan font-size="2.6" dy="-1.2">+</tspan></text>
<text x="123.20" y="96.30" font-size="4.15" text-anchor="start" fill="#3a3a3a" stroke="#3a3a3a" stroke-width="0.0" font-weight="normal">CD8 T cells</text>
<line x1="143.80" y1="94.50" x2="153.50" y2="99.00" stroke="#444" stroke-width="0.35"/>
<circle cx="175.20" cy="68.30" r="0.7" fill="#2fae5a"/>
<text x="176.50" y="69.50" font-size="4.15" text-anchor="start" fill="#3a3a3a" stroke="#3a3a3a" stroke-width="0.0" font-weight="normal">NK/ILC</text>
<line x1="177.50" y1="70.50" x2="172.00" y2="97.00" stroke="#444" stroke-width="0.35"/>
<circle cx="196.50" cy="62.70" r="0.7" fill="#2d9d96"/>
<text x="197.80" y="63.90" font-size="4.15" text-anchor="start" fill="#3a3a3a" stroke="#3a3a3a" stroke-width="0.0" font-weight="normal">CNS-resident myeloid</text>
<line x1="216.50" y1="64.80" x2="208.50" y2="74.00" stroke="#444" stroke-width="0.35"/>
<circle cx="221.70" cy="76.60" r="0.7" fill="#5596d8"/>
<text x="223.00" y="77.80" font-size="4.15" text-anchor="start" fill="#3a3a3a" stroke="#3a3a3a" stroke-width="0.0" font-weight="normal">Activated</text>
<text x="212.80" y="82.50" font-size="4.15" text-anchor="start" fill="#3a3a3a" stroke="#3a3a3a" stroke-width="0.0" font-weight="normal">CNS-resident myeloid</text>
<line x1="228.50" y1="85.20" x2="187.00" y2="95.00" stroke="#444" stroke-width="0.35"/>
<text x="208.20" y="99.40" font-size="4.15" text-anchor="start" fill="#3a3a3a" stroke="#3a3a3a" stroke-width="0.0" font-weight="normal">CNS-resident myeloid 2</text>
<line x1="228.50" y1="102.20" x2="207.50" y2="106.50" stroke="#444" stroke-width="0.35"/>
<circle cx="142.90" cy="115.40" r="0.7" fill="#e0288c"/>
<text x="144.20" y="116.60" font-size="4.15" text-anchor="start" fill="#3a3a3a" stroke="#3a3a3a" stroke-width="0.0" font-weight="normal">B cells</text>
<line x1="156.80" y1="115.80" x2="165.50" y2="119.50" stroke="#444" stroke-width="0.35"/>
<circle cx="202.60" cy="117.00" r="0.7" fill="#8f6fcf"/>
<text x="203.90" y="118.20" font-size="4.15" text-anchor="start" fill="#3a3a3a" stroke="#3a3a3a" stroke-width="0.0" font-weight="normal">Ly6C<tspan font-size="2.6" dy="-1.2">hi</tspan><tspan dy="1.2"> Ly6G</tspan><tspan font-size="2.6" dy="-1.2">-</tspan><tspan dy="1.2"> myeloid</tspan></text>
<line x1="178.00" y1="109.50" x2="202.00" y2="116.80" stroke="#444" stroke-width="0.35"/>
<circle cx="190.80" cy="125.90" r="0.7" fill="#7b2a90"/>
<text x="192.10" y="127.10" font-size="4.15" text-anchor="start" fill="#3a3a3a" stroke="#3a3a3a" stroke-width="0.0" font-weight="normal">Inflammatory</text>
<text x="192.20" y="131.80" font-size="4.15" text-anchor="start" fill="#3a3a3a" stroke="#3a3a3a" stroke-width="0.0" font-weight="normal">monocytes</text>
<line x1="173.00" y1="111.00" x2="190.50" y2="125.60" stroke="#444" stroke-width="0.35"/>
<line x1="134.60" y1="116.30" x2="134.60" y2="129.20" stroke="#444" stroke-width="0.45"/>
<line x1="134.60" y1="129.20" x2="148.00" y2="129.20" stroke="#444" stroke-width="0.45"/>
<path d="M133.85,117.0 L134.6,115.5 L135.35,117.0 Z" fill="#222"/>
<path d="M147.3,128.45 L148.8,129.2 L147.3,129.95 Z" fill="#222"/>
<text x="132.33" y="122.35" font-size="3.8" text-anchor="middle" fill="#222" stroke="#222" stroke-width="0.08" font-weight="normal" transform="rotate(-90 132.332 122.35)">UMAP-2</text>
<text x="134.80" y="133.25" font-size="3.8" text-anchor="start" fill="#222" stroke="#222" stroke-width="0.08" font-weight="normal">UMAP-1</text>
<text x="264.00" y="61.78" font-size="5.5" fill="#111" stroke="#111" stroke-width="0.25" font-weight="bold">C</text>
<circle cx="326.4" cy="54.6" r="1.6" fill="#111"/>
<text x="329.40" y="56.30" font-size="4.8" text-anchor="start" fill="#222" stroke="#222" stroke-width="0.03" font-weight="normal">naive</text>
<circle cx="326.4" cy="61.0" r="1.6" fill="#8a55e0"/>
<text x="329.40" y="62.70" font-size="4.8" text-anchor="start" fill="#222" stroke="#222" stroke-width="0.03" font-weight="normal">7 dpi TMEV</text>
<path d="M274.5,70 C275.5,67 280.5,66 283.5,67.8 C285.5,70 285.3,74.5 283,77 C280.5,78.5 276.5,77.8 275,75.5 C274,73.8 274,71.8 274.5,70 Z" fill="url(#pCP)" stroke="none" stroke-width="0.4"/>
<path d="M263.5,97 C264.5,93.5 268,92.3 271.5,93 C274,92.5 277,91.3 278.7,91.5 C279,93.5 278.5,96 278,98.5 C277.5,101.5 276,104 272.5,104.9 C268.5,105.5 265,104.2 263.8,101.5 C263.2,100 263.2,98.5 263.5,97 Z" fill="url(#pCP)" stroke="none" stroke-width="0.4"/>
<path d="M285.5,96 C288,94 292,94 295,96 L295,105 C292,106 288,105.5 285.5,104 Z" fill="url(#pCP2)" stroke="none" stroke-width="0.4" opacity="0.55"/>
<path d="M280,97 C281,95 284,94.8 286.5,96 C287.8,98 287.5,101.5 286,103.5 C284,104.5 281.5,104 280.5,102 C279.8,100.5 279.7,98.5 280,97 Z" fill="url(#pCP)" stroke="none" stroke-width="0.4"/>
<path d="M283.8,106.5 C285,104 289,103.2 292,104.5 C294,106.5 294,111 292.5,114 C290.5,116 286.5,116.2 284.8,114.5 C283.5,112 283.3,109 283.8,106.5 Z" fill="url(#pCP)" stroke="none" stroke-width="0.4"/>
<rect x="278.9" y="104.2" width="0.9" height="1.6" fill="#3c2860"/>
<path d="M294.5,88 C296,84 300,82.5 303,85 C306,88.5 311,89 313,91 C313.5,97 312.5,104 311,110 C309.5,114 305,115.5 302,114 C299.5,110 297.5,105 295.5,101 C293.8,97 293.8,92 294.5,88 Z" fill="url(#pCP)" stroke="none" stroke-width="0.4"/>
<path d="M300,86 C304,88 308,88 312,89 L312.5,93 C308,94 303,92 299,90 Z" fill="url(#pCM)" stroke="none" stroke-width="0.4"/>
<path d="M299,76 C299.5,70 304,66 310,65.2 C316,64.8 321,66.5 323.2,70 C324.5,74 324.3,80 323.3,85 C322,89.5 319.5,93.5 316,95.5 C312,95 308,92 304.5,89.5 C301.5,87.5 299.5,84 299,80 Z" fill="url(#pCD)" stroke="none" stroke-width="0.4"/>
<path d="M276.4,117.6 L278.6,117.0 L280.0,121.2 L283.0,122.4 L285.6,123.2 L286.0,125.6 L281.0,125.9 L278.6,123.8 L277.2,120.6 Z" fill="url(#pCM)" stroke="none" stroke-width="0.4"/>
<path d="M318.6,103.2 L320.4,106.5 L321.4,111.5" stroke="#2c1d45" stroke-width="0.9" fill="none"/>
<line x1="256.90" y1="116.40" x2="256.90" y2="129.40" stroke="#444" stroke-width="0.45"/>
<line x1="256.90" y1="129.40" x2="269.90" y2="129.40" stroke="#444" stroke-width="0.45"/>
<path d="M256.15,117.1 L256.9,115.6 L257.65,117.1 Z" fill="#222"/>
<path d="M269.2,128.65 L270.7,129.4 L269.2,130.15 Z" fill="#222"/>
<text x="254.63" y="122.50" font-size="3.8" text-anchor="middle" fill="#222" stroke="#222" stroke-width="0.08" font-weight="normal" transform="rotate(-90 254.63199999999998 122.5)">UMAP-2</text>
<text x="257.10" y="133.45" font-size="3.8" text-anchor="start" fill="#222" stroke="#222" stroke-width="0.08" font-weight="normal">UMAP-1</text>
<text x="0.00" y="147.88" font-size="5.5" fill="#111" stroke="#111" stroke-width="0.25" font-weight="bold">D</text>
<text x="58.70" y="153.30" font-size="5.7" text-anchor="middle" fill="#222" stroke="#222" stroke-width="0.07" font-weight="normal">naive - %</text>
<line x1="20.00" y1="154.60" x2="98.00" y2="154.60" stroke="#444" stroke-width="0.7"/>
<text x="162.70" y="153.30" font-size="5.7" text-anchor="middle" fill="#222" stroke="#222" stroke-width="0.07" font-weight="normal">naive - #</text>
<line x1="121.00" y1="154.60" x2="204.00" y2="154.60" stroke="#444" stroke-width="0.7"/>
<rect x="17.70" y="157.00" width="11.90" height="44.50" fill="none" stroke="#bbb" stroke-width="0.4"/>
<line x1="17.70" y1="157.00" x2="17.70" y2="201.50" stroke="#444" stroke-width="0.45"/>
<line x1="17.70" y1="201.50" x2="29.60" y2="201.50" stroke="#444" stroke-width="0.45"/>
<line x1="16.80" y1="201.50" x2="17.70" y2="201.50" stroke="#444" stroke-width="0.35"/>
<text x="16.40" y="202.60" font-size="3.2" text-anchor="end" fill="#222" stroke="#222" stroke-width="0.08" font-weight="normal">0</text>
<line x1="16.80" y1="192.60" x2="17.70" y2="192.60" stroke="#444" stroke-width="0.35"/>
<text x="16.40" y="193.70" font-size="3.2" text-anchor="end" fill="#222" stroke="#222" stroke-width="0.08" font-weight="normal">20</text>
<line x1="16.80" y1="183.70" x2="17.70" y2="183.70" stroke="#444" stroke-width="0.35"/>
<text x="16.40" y="184.80" font-size="3.2" text-anchor="end" fill="#222" stroke="#222" stroke-width="0.08" font-weight="normal">40</text>
<line x1="16.80" y1="174.80" x2="17.70" y2="174.80" stroke="#444" stroke-width="0.35"/>
<text x="16.40" y="175.90" font-size="3.2" text-anchor="end" fill="#222" stroke="#222" stroke-width="0.08" font-weight="normal">60</text>
<line x1="16.80" y1="165.90" x2="17.70" y2="165.90" stroke="#444" stroke-width="0.35"/>
<text x="16.40" y="167.00" font-size="3.2" text-anchor="end" fill="#222" stroke="#222" stroke-width="0.08" font-weight="normal">80</text>
<line x1="16.80" y1="157.00" x2="17.70" y2="157.00" stroke="#444" stroke-width="0.35"/>
<text x="16.40" y="158.10" font-size="3.2" text-anchor="end" fill="#222" stroke="#222" stroke-width="0.08" font-weight="normal">100</text>
<circle cx="21.18" cy="160.35" r="1.0" fill="#17706f"/>
<circle cx="21.26" cy="160.18" r="1.0" fill="#17706f"/>
<circle cx="22.60" cy="160.34" r="1.0" fill="#17706f"/>
<circle cx="24.21" cy="160.36" r="1.0" fill="#17706f"/>
<circle cx="21.40" cy="160.50" r="1.0" fill="#17706f"/>
<circle cx="21.79" cy="160.34" r="1.0" fill="#17706f"/>
<circle cx="23.41" cy="160.05" r="1.0" fill="#17706f"/>
<circle cx="24.69" cy="160.20" r="1.0" fill="#17706f"/>
<circle cx="23.21" cy="160.06" r="1.0" fill="#17706f"/>
<circle cx="22.49" cy="160.24" r="1.0" fill="#17706f"/>
<line x1="20.10" y1="160.26" x2="25.70" y2="160.26" stroke="#17706f" stroke-width="0.45"/>
<line x1="22.90" y1="160.12" x2="22.90" y2="160.41" stroke="#17706f" stroke-width="0.35"/>
<line x1="21.50" y1="160.12" x2="24.30" y2="160.12" stroke="#17706f" stroke-width="0.35"/>
<line x1="21.50" y1="160.41" x2="24.30" y2="160.41" stroke="#17706f" stroke-width="0.35"/>
<rect x="35.50" y="157.00" width="64.20" height="44.50" fill="none" stroke="#bbb" stroke-width="0.4"/>
<line x1="35.50" y1="157.00" x2="35.50" y2="201.50" stroke="#444" stroke-width="0.45"/>
<line x1="35.50" y1="201.50" x2="99.70" y2="201.50" stroke="#444" stroke-width="0.45"/>
<line x1="34.60" y1="201.50" x2="35.50" y2="201.50" stroke="#444" stroke-width="0.35"/>
<text x="34.20" y="202.60" font-size="3.2" text-anchor="end" fill="#222" stroke="#222" stroke-width="0.08" font-weight="normal">0</text>
<line x1="34.60" y1="192.60" x2="35.50" y2="192.60" stroke="#444" stroke-width="0.35"/>
<text x="34.20" y="193.70" font-size="3.2" text-anchor="end" fill="#222" stroke="#222" stroke-width="0.08" font-weight="normal">1</text>
<line x1="34.60" y1="183.70" x2="35.50" y2="183.70" stroke="#444" stroke-width="0.35"/>
<text x="34.20" y="184.80" font-size="3.2" text-anchor="end" fill="#222" stroke="#222" stroke-width="0.08" font-weight="normal">2</text>
<line x1="34.60" y1="174.80" x2="35.50" y2="174.80" stroke="#444" stroke-width="0.35"/>
<text x="34.20" y="175.90" font-size="3.2" text-anchor="end" fill="#222" stroke="#222" stroke-width="0.08" font-weight="normal">3</text>
<line x1="34.60" y1="165.90" x2="35.50" y2="165.90" stroke="#444" stroke-width="0.35"/>
<text x="34.20" y="167.00" font-size="3.2" text-anchor="end" fill="#222" stroke="#222" stroke-width="0.08" font-weight="normal">4</text>
<line x1="34.60" y1="157.00" x2="35.50" y2="157.00" stroke="#444" stroke-width="0.35"/>
<text x="34.20" y="158.10" font-size="3.2" text-anchor="end" fill="#222" stroke="#222" stroke-width="0.08" font-weight="normal">5</text>
<circle cx="42.36" cy="193.03" r="1.0" fill="#1f9a5a"/>
<circle cx="41.29" cy="193.56" r="1.0" fill="#1f9a5a"/>
<circle cx="41.99" cy="192.70" r="1.0" fill="#1f9a5a"/>
<circle cx="40.05" cy="194.46" r="1.0" fill="#1f9a5a"/>
<circle cx="40.04" cy="193.02" r="1.0" fill="#1f9a5a"/>
<circle cx="40.62" cy="192.89" r="1.0" fill="#1f9a5a"/>
<circle cx="42.52" cy="194.49" r="1.0" fill="#1f9a5a"/>
<circle cx="41.51" cy="190.89" r="1.0" fill="#1f9a5a"/>
<circle cx="41.06" cy="192.65" r="1.0" fill="#1f9a5a"/>
<line x1="39.00" y1="193.08" x2="44.60" y2="193.08" stroke="#1f9a5a" stroke-width="0.45"/>
<line x1="41.80" y1="192.00" x2="41.80" y2="194.15" stroke="#1f9a5a" stroke-width="0.35"/>
<line x1="40.40" y1="192.00" x2="43.20" y2="192.00" stroke="#1f9a5a" stroke-width="0.35"/>
<line x1="40.40" y1="194.15" x2="43.20" y2="194.15" stroke="#1f9a5a" stroke-width="0.35"/>
<circle cx="54.30" cy="197.75" r="1.0" fill="#d4cc1f"/>
<circle cx="53.72" cy="198.89" r="1.0" fill="#d4cc1f"/>
<circle cx="51.95" cy="198.69" r="1.0" fill="#d4cc1f"/>
<circle cx="54.72" cy="198.68" r="1.0" fill="#d4cc1f"/>
<circle cx="51.27" cy="197.48" r="1.0" fill="#d4cc1f"/>
<circle cx="52.47" cy="198.51" r="1.0" fill="#d4cc1f"/>
<circle cx="53.83" cy="198.76" r="1.0" fill="#d4cc1f"/>
<circle cx="51.41" cy="198.97" r="1.0" fill="#d4cc1f"/>
<circle cx="52.76" cy="198.68" r="1.0" fill="#d4cc1f"/>
<line x1="50.00" y1="198.49" x2="55.60" y2="198.49" stroke="#d4cc1f" stroke-width="0.45"/>
<line x1="52.80" y1="197.97" x2="52.80" y2="199.01" stroke="#d4cc1f" stroke-width="0.35"/>
<line x1="51.40" y1="197.97" x2="54.20" y2="197.97" stroke="#d4cc1f" stroke-width="0.35"/>
<line x1="51.40" y1="199.01" x2="54.20" y2="199.01" stroke="#d4cc1f" stroke-width="0.35"/>
<circle cx="64.36" cy="198.63" r="1.0" fill="#e0862a"/>
<circle cx="64.78" cy="199.11" r="1.0" fill="#e0862a"/>
<circle cx="62.90" cy="199.22" r="1.0" fill="#e0862a"/>
<circle cx="63.66" cy="199.85" r="1.0" fill="#e0862a"/>
<circle cx="61.24" cy="199.00" r="1.0" fill="#e0862a"/>
<circle cx="63.81" cy="199.55" r="1.0" fill="#e0862a"/>
<circle cx="63.59" cy="199.48" r="1.0" fill="#e0862a"/>
<circle cx="64.97" cy="199.84" r="1.0" fill="#e0862a"/>
<circle cx="64.29" cy="199.71" r="1.0" fill="#e0862a"/>
<line x1="60.20" y1="199.38" x2="65.80" y2="199.38" stroke="#e0862a" stroke-width="0.45"/>
<line x1="63.00" y1="198.96" x2="63.00" y2="199.79" stroke="#e0862a" stroke-width="0.35"/>
<line x1="61.60" y1="198.96" x2="64.40" y2="198.96" stroke="#e0862a" stroke-width="0.35"/>
<line x1="61.60" y1="199.79" x2="64.40" y2="199.79" stroke="#e0862a" stroke-width="0.35"/>
<circle cx="74.17" cy="199.07" r="1.0" fill="#6d1b85"/>
<circle cx="71.62" cy="198.92" r="1.0" fill="#6d1b85"/>
<circle cx="72.09" cy="198.40" r="1.0" fill="#6d1b85"/>
<circle cx="72.66" cy="198.88" r="1.0" fill="#6d1b85"/>
<circle cx="74.59" cy="198.91" r="1.0" fill="#6d1b85"/>
<circle cx="71.42" cy="199.09" r="1.0" fill="#6d1b85"/>
<circle cx="72.90" cy="198.77" r="1.0" fill="#6d1b85"/>
<circle cx="73.30" cy="198.71" r="1.0" fill="#6d1b85"/>
<circle cx="74.63" cy="198.73" r="1.0" fill="#6d1b85"/>
<line x1="70.30" y1="198.83" x2="75.90" y2="198.83" stroke="#6d1b85" stroke-width="0.45"/>
<line x1="73.10" y1="198.62" x2="73.10" y2="199.04" stroke="#6d1b85" stroke-width="0.35"/>
<line x1="71.70" y1="198.62" x2="74.50" y2="198.62" stroke="#6d1b85" stroke-width="0.35"/>
<line x1="71.70" y1="199.04" x2="74.50" y2="199.04" stroke="#6d1b85" stroke-width="0.35"/>
<circle cx="82.13" cy="198.98" r="1.0" fill="#9a7fe0"/>
<circle cx="83.14" cy="199.92" r="1.0" fill="#9a7fe0"/>
<circle cx="83.56" cy="199.34" r="1.0" fill="#9a7fe0"/>
<circle cx="82.25" cy="198.91" r="1.0" fill="#9a7fe0"/>
<circle cx="81.22" cy="199.74" r="1.0" fill="#9a7fe0"/>
<circle cx="82.88" cy="198.70" r="1.0" fill="#9a7fe0"/>
<circle cx="82.68" cy="199.08" r="1.0" fill="#9a7fe0"/>
<circle cx="83.47" cy="199.33" r="1.0" fill="#9a7fe0"/>
<circle cx="85.01" cy="199.16" r="1.0" fill="#9a7fe0"/>
<line x1="80.40" y1="199.24" x2="86.00" y2="199.24" stroke="#9a7fe0" stroke-width="0.45"/>
<line x1="83.20" y1="198.85" x2="83.20" y2="199.63" stroke="#9a7fe0" stroke-width="0.35"/>
<line x1="81.80" y1="198.85" x2="84.60" y2="198.85" stroke="#9a7fe0" stroke-width="0.35"/>
<line x1="81.80" y1="199.63" x2="84.60" y2="199.63" stroke="#9a7fe0" stroke-width="0.35"/>
<circle cx="94.19" cy="168.66" r="1.0" fill="#d41e6e"/>
<circle cx="92.57" cy="174.48" r="1.0" fill="#d41e6e"/>
<circle cx="92.60" cy="178.11" r="1.0" fill="#d41e6e"/>
<circle cx="91.41" cy="178.06" r="1.0" fill="#d41e6e"/>
<circle cx="93.54" cy="177.53" r="1.0" fill="#d41e6e"/>
<circle cx="91.25" cy="161.33" r="1.0" fill="#d41e6e"/>
<circle cx="91.27" cy="168.32" r="1.0" fill="#d41e6e"/>
<circle cx="91.84" cy="170.09" r="1.0" fill="#d41e6e"/>
<circle cx="91.65" cy="182.82" r="1.0" fill="#d41e6e"/>
<line x1="90.20" y1="173.27" x2="95.80" y2="173.27" stroke="#d41e6e" stroke-width="0.45"/>
<line x1="93.00" y1="166.60" x2="93.00" y2="179.93" stroke="#d41e6e" stroke-width="0.35"/>
<line x1="91.60" y1="166.60" x2="94.40" y2="166.60" stroke="#d41e6e" stroke-width="0.35"/>
<line x1="91.60" y1="179.93" x2="94.40" y2="179.93" stroke="#d41e6e" stroke-width="0.35"/>
<text x="9.90" y="179.40" font-size="4.4" text-anchor="middle" fill="#222" stroke="#222" stroke-width="0.08" font-weight="normal" transform="rotate(-90 9.9 179.4)">% of CD45<tspan font-size="2.9" dy="-1.3">+</tspan><tspan dy="1.3"> cells</tspan></text>
<rect x="122.00" y="157.00" width="11.00" height="44.50" fill="none" stroke="#bbb" stroke-width="0.4"/>
<line x1="122.00" y1="157.00" x2="122.00" y2="201.50" stroke="#444" stroke-width="0.45"/>
<line x1="122.00" y1="201.50" x2="133.00" y2="201.50" stroke="#444" stroke-width="0.45"/>
<line x1="121.10" y1="201.50" x2="122.00" y2="201.50" stroke="#444" stroke-width="0.35"/>
<text x="120.70" y="202.60" font-size="3.2" text-anchor="end" fill="#222" stroke="#222" stroke-width="0.08" font-weight="normal">0</text>
<line x1="121.10" y1="192.60" x2="122.00" y2="192.60" stroke="#444" stroke-width="0.35"/>
<text x="120.70" y="193.70" font-size="3.2" text-anchor="end" fill="#222" stroke="#222" stroke-width="0.08" font-weight="normal">2</text>
<line x1="121.10" y1="183.70" x2="122.00" y2="183.70" stroke="#444" stroke-width="0.35"/>
<text x="120.70" y="184.80" font-size="3.2" text-anchor="end" fill="#222" stroke="#222" stroke-width="0.08" font-weight="normal">4</text>
<line x1="121.10" y1="174.80" x2="122.00" y2="174.80" stroke="#444" stroke-width="0.35"/>
<text x="120.70" y="175.90" font-size="3.2" text-anchor="end" fill="#222" stroke="#222" stroke-width="0.08" font-weight="normal">6</text>
<line x1="121.10" y1="165.90" x2="122.00" y2="165.90" stroke="#444" stroke-width="0.35"/>
<text x="120.70" y="167.00" font-size="3.2" text-anchor="end" fill="#222" stroke="#222" stroke-width="0.08" font-weight="normal">8</text>
<line x1="121.10" y1="157.00" x2="122.00" y2="157.00" stroke="#444" stroke-width="0.35"/>
<text x="120.70" y="158.10" font-size="3.2" text-anchor="end" fill="#222" stroke="#222" stroke-width="0.08" font-weight="normal">10</text>
<circle cx="126.92" cy="167.24" r="1.0" fill="#188888"/>
<circle cx="125.89" cy="174.35" r="1.0" fill="#188888"/>
<circle cx="125.70" cy="181.03" r="1.0" fill="#188888"/>
<circle cx="126.24" cy="183.70" r="1.0" fill="#188888"/>
<circle cx="126.07" cy="187.26" r="1.0" fill="#188888"/>
<circle cx="127.01" cy="189.49" r="1.0" fill="#188888"/>
<circle cx="125.79" cy="190.38" r="1.0" fill="#188888"/>
<circle cx="128.85" cy="188.15" r="1.0" fill="#188888"/>
<circle cx="127.91" cy="185.93" r="1.0" fill="#188888"/>
<line x1="124.70" y1="183.06" x2="130.30" y2="183.06" stroke="#188888" stroke-width="0.45"/>
<line x1="127.50" y1="175.33" x2="127.50" y2="190.78" stroke="#188888" stroke-width="0.35"/>
<line x1="126.10" y1="175.33" x2="128.90" y2="175.33" stroke="#188888" stroke-width="0.35"/>
<line x1="126.10" y1="190.78" x2="128.90" y2="190.78" stroke="#188888" stroke-width="0.35"/>
<rect x="144.30" y="157.00" width="64.40" height="44.50" fill="none" stroke="#bbb" stroke-width="0.4"/>
<line x1="144.30" y1="157.00" x2="144.30" y2="201.50" stroke="#444" stroke-width="0.45"/>
<line x1="144.30" y1="201.50" x2="208.70" y2="201.50" stroke="#444" stroke-width="0.45"/>
<line x1="143.40" y1="201.50" x2="144.30" y2="201.50" stroke="#444" stroke-width="0.35"/>
<text x="143.00" y="202.60" font-size="3.2" text-anchor="end" fill="#222" stroke="#222" stroke-width="0.08" font-weight="normal">0</text>
<line x1="143.40" y1="190.38" x2="144.30" y2="190.38" stroke="#444" stroke-width="0.35"/>
<text x="143.00" y="191.47" font-size="3.2" text-anchor="end" fill="#222" stroke="#222" stroke-width="0.08" font-weight="normal">1</text>
<line x1="143.40" y1="179.25" x2="144.30" y2="179.25" stroke="#444" stroke-width="0.35"/>
<text x="143.00" y="180.35" font-size="3.2" text-anchor="end" fill="#222" stroke="#222" stroke-width="0.08" font-weight="normal">2</text>
<line x1="143.40" y1="168.12" x2="144.30" y2="168.12" stroke="#444" stroke-width="0.35"/>
<text x="143.00" y="169.22" font-size="3.2" text-anchor="end" fill="#222" stroke="#222" stroke-width="0.08" font-weight="normal">3</text>
<line x1="143.40" y1="157.00" x2="144.30" y2="157.00" stroke="#444" stroke-width="0.35"/>
<text x="143.00" y="158.10" font-size="3.2" text-anchor="end" fill="#222" stroke="#222" stroke-width="0.08" font-weight="normal">4</text>
<circle cx="151.74" cy="196.85" r="1.0" fill="#1f9a5a"/>
<circle cx="150.14" cy="196.58" r="1.0" fill="#1f9a5a"/>
<circle cx="150.21" cy="198.52" r="1.0" fill="#1f9a5a"/>
<circle cx="151.17" cy="196.31" r="1.0" fill="#1f9a5a"/>
<circle cx="150.86" cy="195.28" r="1.0" fill="#1f9a5a"/>
<circle cx="153.12" cy="195.34" r="1.0" fill="#1f9a5a"/>
<circle cx="150.45" cy="195.74" r="1.0" fill="#1f9a5a"/>
<circle cx="149.89" cy="197.69" r="1.0" fill="#1f9a5a"/>
<circle cx="153.60" cy="190.93" r="1.0" fill="#1f9a5a"/>
<line x1="149.00" y1="195.92" x2="154.60" y2="195.92" stroke="#1f9a5a" stroke-width="0.45"/>
<line x1="151.80" y1="193.77" x2="151.80" y2="198.07" stroke="#1f9a5a" stroke-width="0.35"/>
<line x1="150.40" y1="193.77" x2="153.20" y2="193.77" stroke="#1f9a5a" stroke-width="0.35"/>
<line x1="150.40" y1="198.07" x2="153.20" y2="198.07" stroke="#1f9a5a" stroke-width="0.35"/>
<circle cx="160.94" cy="200.14" r="1.0" fill="#d4cc1f"/>
<circle cx="161.37" cy="199.89" r="1.0" fill="#d4cc1f"/>
<circle cx="160.57" cy="199.96" r="1.0" fill="#d4cc1f"/>
<circle cx="162.99" cy="199.87" r="1.0" fill="#d4cc1f"/>
<circle cx="162.03" cy="201.35" r="1.0" fill="#d4cc1f"/>
<circle cx="163.02" cy="200.10" r="1.0" fill="#d4cc1f"/>
<circle cx="161.22" cy="199.27" r="1.0" fill="#d4cc1f"/>
<circle cx="160.79" cy="200.48" r="1.0" fill="#d4cc1f"/>
<line x1="159.10" y1="200.13" x2="164.70" y2="200.13" stroke="#d4cc1f" stroke-width="0.45"/>
<line x1="161.90" y1="199.53" x2="161.90" y2="200.73" stroke="#d4cc1f" stroke-width="0.35"/>
<line x1="160.50" y1="199.53" x2="163.30" y2="199.53" stroke="#d4cc1f" stroke-width="0.35"/>
<line x1="160.50" y1="200.73" x2="163.30" y2="200.73" stroke="#d4cc1f" stroke-width="0.35"/>
<circle cx="170.62" cy="198.30" r="1.0" fill="#e0862a"/>
<circle cx="169.32" cy="201.50" r="1.0" fill="#e0862a"/>
<circle cx="169.31" cy="198.31" r="1.0" fill="#e0862a"/>
<circle cx="170.32" cy="200.56" r="1.0" fill="#e0862a"/>
<circle cx="170.24" cy="198.67" r="1.0" fill="#e0862a"/>
<circle cx="171.97" cy="200.60" r="1.0" fill="#e0862a"/>
<circle cx="173.03" cy="199.12" r="1.0" fill="#e0862a"/>
<circle cx="170.99" cy="198.21" r="1.0" fill="#e0862a"/>
<circle cx="172.95" cy="196.49" r="1.0" fill="#e0862a"/>
<line x1="168.40" y1="199.09" x2="174.00" y2="199.09" stroke="#e0862a" stroke-width="0.45"/>
<line x1="171.20" y1="197.54" x2="171.20" y2="200.63" stroke="#e0862a" stroke-width="0.35"/>
<line x1="169.80" y1="197.54" x2="172.60" y2="197.54" stroke="#e0862a" stroke-width="0.35"/>
<line x1="169.80" y1="200.63" x2="172.60" y2="200.63" stroke="#e0862a" stroke-width="0.35"/>
<circle cx="182.90" cy="197.62" r="1.0" fill="#6d1b85"/>
<circle cx="182.66" cy="199.40" r="1.0" fill="#6d1b85"/>
<circle cx="181.22" cy="199.59" r="1.0" fill="#6d1b85"/>
<circle cx="181.91" cy="198.92" r="1.0" fill="#6d1b85"/>
<circle cx="182.50" cy="199.21" r="1.0" fill="#6d1b85"/>
<circle cx="179.64" cy="198.84" r="1.0" fill="#6d1b85"/>
<circle cx="181.94" cy="199.01" r="1.0" fill="#6d1b85"/>
<circle cx="182.94" cy="198.38" r="1.0" fill="#6d1b85"/>
<line x1="178.50" y1="198.87" x2="184.10" y2="198.87" stroke="#6d1b85" stroke-width="0.45"/>
<line x1="181.30" y1="198.24" x2="181.30" y2="199.50" stroke="#6d1b85" stroke-width="0.35"/>
<line x1="179.90" y1="198.24" x2="182.70" y2="198.24" stroke="#6d1b85" stroke-width="0.35"/>
<line x1="179.90" y1="199.50" x2="182.70" y2="199.50" stroke="#6d1b85" stroke-width="0.35"/>
<circle cx="191.08" cy="199.68" r="1.0" fill="#9a7fe0"/>
<circle cx="191.11" cy="200.56" r="1.0" fill="#9a7fe0"/>
<circle cx="193.29" cy="200.11" r="1.0" fill="#9a7fe0"/>
<circle cx="192.40" cy="199.79" r="1.0" fill="#9a7fe0"/>
<circle cx="190.18" cy="199.73" r="1.0" fill="#9a7fe0"/>
<circle cx="190.01" cy="200.22" r="1.0" fill="#9a7fe0"/>
<circle cx="190.10" cy="199.46" r="1.0" fill="#9a7fe0"/>
<circle cx="193.12" cy="200.96" r="1.0" fill="#9a7fe0"/>
<line x1="188.70" y1="200.06" x2="194.30" y2="200.06" stroke="#9a7fe0" stroke-width="0.45"/>
<line x1="191.50" y1="199.56" x2="191.50" y2="200.57" stroke="#9a7fe0" stroke-width="0.35"/>
<line x1="190.10" y1="199.56" x2="192.90" y2="199.56" stroke="#9a7fe0" stroke-width="0.35"/>
<line x1="190.10" y1="200.57" x2="192.90" y2="200.57" stroke="#9a7fe0" stroke-width="0.35"/>
<circle cx="200.26" cy="189.72" r="1.0" fill="#d41e6e"/>
<circle cx="204.08" cy="192.13" r="1.0" fill="#d41e6e"/>
<circle cx="202.80" cy="186.05" r="1.0" fill="#d41e6e"/>
<circle cx="202.31" cy="198.67" r="1.0" fill="#d41e6e"/>
<circle cx="203.93" cy="192.08" r="1.0" fill="#d41e6e"/>
<circle cx="201.94" cy="192.96" r="1.0" fill="#d41e6e"/>
<circle cx="203.69" cy="192.06" r="1.0" fill="#d41e6e"/>
<circle cx="203.50" cy="190.91" r="1.0" fill="#d41e6e"/>
<circle cx="201.04" cy="161.45" r="1.0" fill="#d41e6e"/>
<circle cx="201.21" cy="183.70" r="1.0" fill="#d41e6e"/>
<line x1="199.40" y1="187.97" x2="205.00" y2="187.97" stroke="#d41e6e" stroke-width="0.45"/>
<line x1="202.20" y1="177.82" x2="202.20" y2="198.12" stroke="#d41e6e" stroke-width="0.35"/>
<line x1="200.80" y1="177.82" x2="203.60" y2="177.82" stroke="#d41e6e" stroke-width="0.35"/>
<line x1="200.80" y1="198.12" x2="203.60" y2="198.12" stroke="#d41e6e" stroke-width="0.35"/>
<text x="114.30" y="179.80" font-size="4.4" text-anchor="middle" fill="#222" stroke="#222" stroke-width="0.08" font-weight="normal" transform="rotate(-90 114.3 179.8)"># of cells (x10<tspan font-size="2.9" dy="-1.3">3</tspan><tspan dy="1.3">)</tspan></text>
<text x="139.60" y="179.80" font-size="4.4" text-anchor="middle" fill="#222" stroke="#222" stroke-width="0.08" font-weight="normal" transform="rotate(-90 139.6 179.8)"># of cells (x10<tspan font-size="2.9" dy="-1.3">3</tspan><tspan dy="1.3">)</tspan></text>
<text x="22.90" y="204.50" font-size="4.0" text-anchor="end" fill="#222" stroke="#222" stroke-width="0.08" font-weight="normal" transform="rotate(-45 22.9 204.5)">CNS-resident<tspan x="22.90" dy="4.5">myeloid cells</tspan></text>
<text x="42.00" y="204.50" font-size="4.0" text-anchor="end" fill="#222" stroke="#222" stroke-width="0.08" font-weight="normal" transform="rotate(-45 42.0 204.5)">NK/ILC/other</text>
<text x="53.00" y="204.50" font-size="4.0" text-anchor="end" fill="#222" stroke="#222" stroke-width="0.08" font-weight="normal" transform="rotate(-45 53.0 204.5)">CD4 T cells</text>
<text x="63.20" y="204.50" font-size="4.0" text-anchor="end" fill="#222" stroke="#222" stroke-width="0.08" font-weight="normal" transform="rotate(-45 63.2 204.5)">CD8 T cells</text>
<text x="73.30" y="204.50" font-size="4.0" text-anchor="end" fill="#222" stroke="#222" stroke-width="0.08" font-weight="normal" transform="rotate(-45 73.3 204.5)">Inflammatory<tspan x="73.30" dy="4.5">monocytes</tspan></text>
<text x="83.40" y="204.50" font-size="4.0" text-anchor="end" fill="#222" stroke="#222" stroke-width="0.08" font-weight="normal" transform="rotate(-45 83.4 204.5)">Ly6C<tspan font-size="2.6" dy="-1">hi</tspan><tspan dy="1"> Ly6G</tspan><tspan font-size="2.6" dy="-1">-</tspan><tspan x="83.40" dy="5.5">myeloid cells</tspan></text>
<text x="93.20" y="204.50" font-size="4.0" text-anchor="end" fill="#222" stroke="#222" stroke-width="0.08" font-weight="normal" transform="rotate(-45 93.2 204.5)">B cells</text>
<text x="126.90" y="204.50" font-size="4.0" text-anchor="end" fill="#222" stroke="#222" stroke-width="0.08" font-weight="normal" transform="rotate(-45 126.9 204.5)">CNS-resident<tspan x="126.90" dy="4.5">myeloid cells</tspan></text>
<text x="152.00" y="204.50" font-size="4.0" text-anchor="end" fill="#222" stroke="#222" stroke-width="0.08" font-weight="normal" transform="rotate(-45 152.0 204.5)">NK/ILC/other</text>
<text x="162.10" y="204.50" font-size="4.0" text-anchor="end" fill="#222" stroke="#222" stroke-width="0.08" font-weight="normal" transform="rotate(-45 162.1 204.5)">CD4 T cells</text>
<text x="171.40" y="204.50" font-size="4.0" text-anchor="end" fill="#222" stroke="#222" stroke-width="0.08" font-weight="normal" transform="rotate(-45 171.39999999999998 204.5)">CD8 T cells</text>
<text x="181.50" y="204.50" font-size="4.0" text-anchor="end" fill="#222" stroke="#222" stroke-width="0.08" font-weight="normal" transform="rotate(-45 181.5 204.5)">Inflammatory<tspan x="181.50" dy="4.5">monocytes</tspan></text>
<text x="191.70" y="204.50" font-size="4.0" text-anchor="end" fill="#222" stroke="#222" stroke-width="0.08" font-weight="normal" transform="rotate(-45 191.7 204.5)">Ly6C<tspan font-size="2.6" dy="-1">hi</tspan><tspan dy="1"> Ly6G</tspan><tspan font-size="2.6" dy="-1">-</tspan><tspan x="191.70" dy="5.5">myeloid cells</tspan></text>
<text x="202.40" y="204.50" font-size="4.0" text-anchor="end" fill="#222" stroke="#222" stroke-width="0.08" font-weight="normal" transform="rotate(-45 202.39999999999998 204.5)">B cells</text>
<text x="0.00" y="236.28" font-size="5.5" fill="#111" stroke="#111" stroke-width="0.25" font-weight="bold">E</text>
<text x="56.60" y="237.00" font-size="5.7" text-anchor="middle" fill="#222" stroke="#222" stroke-width="0.07" font-weight="normal">7 dpi TMEV - %</text>
<line x1="17.00" y1="238.20" x2="96.00" y2="238.20" stroke="#444" stroke-width="0.7"/>
<text x="164.00" y="237.00" font-size="5.7" text-anchor="middle" fill="#222" stroke="#222" stroke-width="0.07" font-weight="normal">7 dpi TMEV - #</text>
<line x1="123.70" y1="238.20" x2="204.00" y2="238.20" stroke="#444" stroke-width="0.7"/>
<rect x="17.70" y="241.40" width="10.20" height="44.20" fill="none" stroke="#bbb" stroke-width="0.4"/>
<line x1="17.70" y1="241.40" x2="17.70" y2="285.60" stroke="#444" stroke-width="0.45"/>
<line x1="17.70" y1="285.60" x2="27.90" y2="285.60" stroke="#444" stroke-width="0.45"/>
<line x1="16.80" y1="285.60" x2="17.70" y2="285.60" stroke="#444" stroke-width="0.35"/>
<text x="16.40" y="286.70" font-size="3.2" text-anchor="end" fill="#222" stroke="#222" stroke-width="0.08" font-weight="normal">0</text>
<line x1="16.80" y1="276.76" x2="17.70" y2="276.76" stroke="#444" stroke-width="0.35"/>
<text x="16.40" y="277.86" font-size="3.2" text-anchor="end" fill="#222" stroke="#222" stroke-width="0.08" font-weight="normal">20</text>
<line x1="16.80" y1="267.92" x2="17.70" y2="267.92" stroke="#444" stroke-width="0.35"/>
<text x="16.40" y="269.02" font-size="3.2" text-anchor="end" fill="#222" stroke="#222" stroke-width="0.08" font-weight="normal">40</text>
<line x1="16.80" y1="259.08" x2="17.70" y2="259.08" stroke="#444" stroke-width="0.35"/>
<text x="16.40" y="260.18" font-size="3.2" text-anchor="end" fill="#222" stroke="#222" stroke-width="0.08" font-weight="normal">60</text>
<line x1="16.80" y1="250.24" x2="17.70" y2="250.24" stroke="#444" stroke-width="0.35"/>
<text x="16.40" y="251.34" font-size="3.2" text-anchor="end" fill="#222" stroke="#222" stroke-width="0.08" font-weight="normal">80</text>
<line x1="16.80" y1="241.40" x2="17.70" y2="241.40" stroke="#444" stroke-width="0.35"/>
<text x="16.40" y="242.50" font-size="3.2" text-anchor="end" fill="#222" stroke="#222" stroke-width="0.08" font-weight="normal">100</text>
<circle cx="24.01" cy="260.84" r="1.0" fill="#188888"/>
<circle cx="22.56" cy="258.83" r="1.0" fill="#188888"/>
<circle cx="24.05" cy="261.87" r="1.0" fill="#188888"/>
<circle cx="22.80" cy="261.29" r="1.0" fill="#188888"/>
<circle cx="22.90" cy="261.43" r="1.0" fill="#188888"/>
<circle cx="22.87" cy="259.84" r="1.0" fill="#188888"/>
<circle cx="21.36" cy="258.66" r="1.0" fill="#188888"/>
<circle cx="22.62" cy="261.51" r="1.0" fill="#188888"/>
<circle cx="21.85" cy="263.23" r="1.0" fill="#188888"/>
<circle cx="21.31" cy="259.65" r="1.0" fill="#188888"/>
<line x1="20.00" y1="260.71" x2="25.60" y2="260.71" stroke="#188888" stroke-width="0.45"/>
<line x1="22.80" y1="259.27" x2="22.80" y2="262.16" stroke="#188888" stroke-width="0.35"/>
<line x1="21.40" y1="259.27" x2="24.20" y2="259.27" stroke="#188888" stroke-width="0.35"/>
<line x1="21.40" y1="262.16" x2="24.20" y2="262.16" stroke="#188888" stroke-width="0.35"/>
<rect x="35.50" y="241.40" width="62.80" height="44.20" fill="none" stroke="#bbb" stroke-width="0.4"/>
<line x1="35.50" y1="241.40" x2="35.50" y2="285.60" stroke="#444" stroke-width="0.45"/>
<line x1="35.50" y1="285.60" x2="98.30" y2="285.60" stroke="#444" stroke-width="0.45"/>
<line x1="34.60" y1="285.60" x2="35.50" y2="285.60" stroke="#444" stroke-width="0.35"/>
<text x="34.20" y="286.70" font-size="3.2" text-anchor="end" fill="#222" stroke="#222" stroke-width="0.08" font-weight="normal">0</text>
<line x1="34.60" y1="278.23" x2="35.50" y2="278.23" stroke="#444" stroke-width="0.35"/>
<text x="34.20" y="279.33" font-size="3.2" text-anchor="end" fill="#222" stroke="#222" stroke-width="0.08" font-weight="normal">5</text>
<line x1="34.60" y1="270.87" x2="35.50" y2="270.87" stroke="#444" stroke-width="0.35"/>
<text x="34.20" y="271.97" font-size="3.2" text-anchor="end" fill="#222" stroke="#222" stroke-width="0.08" font-weight="normal">10</text>
<line x1="34.60" y1="263.50" x2="35.50" y2="263.50" stroke="#444" stroke-width="0.35"/>
<text x="34.20" y="264.60" font-size="3.2" text-anchor="end" fill="#222" stroke="#222" stroke-width="0.08" font-weight="normal">15</text>
<line x1="34.60" y1="256.13" x2="35.50" y2="256.13" stroke="#444" stroke-width="0.35"/>
<text x="34.20" y="257.23" font-size="3.2" text-anchor="end" fill="#222" stroke="#222" stroke-width="0.08" font-weight="normal">20</text>
<line x1="34.60" y1="248.77" x2="35.50" y2="248.77" stroke="#444" stroke-width="0.35"/>
<text x="34.20" y="249.87" font-size="3.2" text-anchor="end" fill="#222" stroke="#222" stroke-width="0.08" font-weight="normal">25</text>
<line x1="34.60" y1="241.40" x2="35.50" y2="241.40" stroke="#444" stroke-width="0.35"/>
<text x="34.20" y="242.50" font-size="3.2" text-anchor="end" fill="#222" stroke="#222" stroke-width="0.08" font-weight="normal">30</text>
<circle cx="42.54" cy="278.93" r="1.0" fill="#1f9a5a"/>
<circle cx="41.29" cy="280.30" r="1.0" fill="#1f9a5a"/>
<circle cx="41.41" cy="282.07" r="1.0" fill="#1f9a5a"/>
<circle cx="43.39" cy="278.79" r="1.0" fill="#1f9a5a"/>
<circle cx="42.33" cy="280.74" r="1.0" fill="#1f9a5a"/>
<circle cx="42.55" cy="279.81" r="1.0" fill="#1f9a5a"/>
<circle cx="43.34" cy="281.50" r="1.0" fill="#1f9a5a"/>
<circle cx="43.95" cy="279.52" r="1.0" fill="#1f9a5a"/>
<circle cx="42.07" cy="279.09" r="1.0" fill="#1f9a5a"/>
<line x1="39.50" y1="280.08" x2="45.10" y2="280.08" stroke="#1f9a5a" stroke-width="0.45"/>
<line x1="42.30" y1="278.92" x2="42.30" y2="281.24" stroke="#1f9a5a" stroke-width="0.35"/>
<line x1="40.90" y1="278.92" x2="43.70" y2="278.92" stroke="#1f9a5a" stroke-width="0.35"/>
<line x1="40.90" y1="281.24" x2="43.70" y2="281.24" stroke="#1f9a5a" stroke-width="0.35"/>
<circle cx="53.20" cy="276.17" r="1.0" fill="#d4cc1f"/>
<circle cx="53.91" cy="277.01" r="1.0" fill="#d4cc1f"/>
<circle cx="54.17" cy="276.76" r="1.0" fill="#d4cc1f"/>
<circle cx="51.44" cy="278.22" r="1.0" fill="#d4cc1f"/>
<circle cx="52.64" cy="275.51" r="1.0" fill="#d4cc1f"/>
<circle cx="54.17" cy="277.55" r="1.0" fill="#d4cc1f"/>
<circle cx="53.76" cy="274.59" r="1.0" fill="#d4cc1f"/>
<circle cx="50.95" cy="279.81" r="1.0" fill="#d4cc1f"/>
<circle cx="50.89" cy="274.66" r="1.0" fill="#d4cc1f"/>
<line x1="49.60" y1="276.70" x2="55.20" y2="276.70" stroke="#d4cc1f" stroke-width="0.45"/>
<line x1="52.40" y1="275.00" x2="52.40" y2="278.40" stroke="#d4cc1f" stroke-width="0.35"/>
<line x1="51.00" y1="275.00" x2="53.80" y2="275.00" stroke="#d4cc1f" stroke-width="0.35"/>
<line x1="51.00" y1="278.40" x2="53.80" y2="278.40" stroke="#d4cc1f" stroke-width="0.35"/>
<circle cx="60.57" cy="264.06" r="1.0" fill="#e0862a"/>
<circle cx="63.53" cy="261.25" r="1.0" fill="#e0862a"/>
<circle cx="63.87" cy="261.90" r="1.0" fill="#e0862a"/>
<circle cx="60.88" cy="259.85" r="1.0" fill="#e0862a"/>
<circle cx="63.81" cy="266.78" r="1.0" fill="#e0862a"/>
<circle cx="61.59" cy="270.60" r="1.0" fill="#e0862a"/>
<circle cx="61.95" cy="259.44" r="1.0" fill="#e0862a"/>
<circle cx="63.96" cy="263.98" r="1.0" fill="#e0862a"/>
<circle cx="63.33" cy="263.76" r="1.0" fill="#e0862a"/>
<circle cx="60.65" cy="251.57" r="1.0" fill="#e0862a"/>
<circle cx="61.73" cy="272.34" r="1.0" fill="#e0862a"/>
<line x1="59.20" y1="263.23" x2="64.80" y2="263.23" stroke="#e0862a" stroke-width="0.45"/>
<line x1="62.00" y1="257.58" x2="62.00" y2="268.88" stroke="#e0862a" stroke-width="0.35"/>
<line x1="60.60" y1="257.58" x2="63.40" y2="257.58" stroke="#e0862a" stroke-width="0.35"/>
<line x1="60.60" y1="268.88" x2="63.40" y2="268.88" stroke="#e0862a" stroke-width="0.35"/>
<circle cx="70.17" cy="283.20" r="1.0" fill="#6d1b85"/>
<circle cx="71.43" cy="281.64" r="1.0" fill="#6d1b85"/>
<circle cx="72.60" cy="279.23" r="1.0" fill="#6d1b85"/>
<circle cx="72.15" cy="278.11" r="1.0" fill="#6d1b85"/>
<circle cx="70.36" cy="276.54" r="1.0" fill="#6d1b85"/>
<circle cx="74.04" cy="279.07" r="1.0" fill="#6d1b85"/>
<circle cx="73.25" cy="279.55" r="1.0" fill="#6d1b85"/>
<circle cx="73.99" cy="281.96" r="1.0" fill="#6d1b85"/>
<circle cx="70.52" cy="280.03" r="1.0" fill="#6d1b85"/>
<line x1="69.30" y1="279.93" x2="74.90" y2="279.93" stroke="#6d1b85" stroke-width="0.45"/>
<line x1="72.10" y1="277.86" x2="72.10" y2="281.99" stroke="#6d1b85" stroke-width="0.35"/>
<line x1="70.70" y1="277.86" x2="73.50" y2="277.86" stroke="#6d1b85" stroke-width="0.35"/>
<line x1="70.70" y1="281.99" x2="73.50" y2="281.99" stroke="#6d1b85" stroke-width="0.35"/>
<circle cx="84.78" cy="283.40" r="1.0" fill="#9a7fe0"/>
<circle cx="83.38" cy="283.26" r="1.0" fill="#9a7fe0"/>
<circle cx="83.90" cy="283.33" r="1.0" fill="#9a7fe0"/>
<circle cx="81.46" cy="283.74" r="1.0" fill="#9a7fe0"/>
<circle cx="81.33" cy="283.07" r="1.0" fill="#9a7fe0"/>
<circle cx="83.85" cy="283.05" r="1.0" fill="#9a7fe0"/>
<circle cx="82.80" cy="282.70" r="1.0" fill="#9a7fe0"/>
<circle cx="81.39" cy="283.82" r="1.0" fill="#9a7fe0"/>
<circle cx="84.85" cy="283.40" r="1.0" fill="#9a7fe0"/>
<line x1="80.30" y1="283.31" x2="85.90" y2="283.31" stroke="#9a7fe0" stroke-width="0.45"/>
<line x1="83.10" y1="282.96" x2="83.10" y2="283.66" stroke="#9a7fe0" stroke-width="0.35"/>
<line x1="81.70" y1="282.96" x2="84.50" y2="282.96" stroke="#9a7fe0" stroke-width="0.35"/>
<line x1="81.70" y1="283.66" x2="84.50" y2="283.66" stroke="#9a7fe0" stroke-width="0.35"/>
<circle cx="92.61" cy="283.88" r="1.0" fill="#d41e6e"/>
<circle cx="94.11" cy="284.65" r="1.0" fill="#d41e6e"/>
<circle cx="91.47" cy="284.72" r="1.0" fill="#d41e6e"/>
<circle cx="90.92" cy="283.37" r="1.0" fill="#d41e6e"/>
<circle cx="92.51" cy="283.69" r="1.0" fill="#d41e6e"/>
<circle cx="91.35" cy="283.32" r="1.0" fill="#d41e6e"/>
<circle cx="90.84" cy="283.77" r="1.0" fill="#d41e6e"/>
<circle cx="91.05" cy="284.51" r="1.0" fill="#d41e6e"/>
<circle cx="90.60" cy="284.01" r="1.0" fill="#d41e6e"/>
<line x1="89.60" y1="283.99" x2="95.20" y2="283.99" stroke="#d41e6e" stroke-width="0.45"/>
<line x1="92.40" y1="283.46" x2="92.40" y2="284.52" stroke="#d41e6e" stroke-width="0.35"/>
<line x1="91.00" y1="283.46" x2="93.80" y2="283.46" stroke="#d41e6e" stroke-width="0.35"/>
<line x1="91.00" y1="284.52" x2="93.80" y2="284.52" stroke="#d41e6e" stroke-width="0.35"/>
<text x="9.30" y="263.50" font-size="4.4" text-anchor="middle" fill="#222" stroke="#222" stroke-width="0.08" font-weight="normal" transform="rotate(-90 9.3 263.5)">% of CD45<tspan font-size="2.9" dy="-1.3">+</tspan><tspan dy="1.3"> cells</tspan></text>
<rect x="121.10" y="241.40" width="11.90" height="44.20" fill="none" stroke="#bbb" stroke-width="0.4"/>
<line x1="121.10" y1="241.40" x2="121.10" y2="285.60" stroke="#444" stroke-width="0.45"/>
<line x1="121.10" y1="285.60" x2="133.00" y2="285.60" stroke="#444" stroke-width="0.45"/>
<line x1="120.20" y1="285.60" x2="121.10" y2="285.60" stroke="#444" stroke-width="0.35"/>
<text x="119.80" y="286.70" font-size="3.2" text-anchor="end" fill="#222" stroke="#222" stroke-width="0.08" font-weight="normal">0</text>
<line x1="120.20" y1="276.76" x2="121.10" y2="276.76" stroke="#444" stroke-width="0.35"/>
<text x="119.80" y="277.86" font-size="3.2" text-anchor="end" fill="#222" stroke="#222" stroke-width="0.08" font-weight="normal">0.5</text>
<line x1="120.20" y1="267.92" x2="121.10" y2="267.92" stroke="#444" stroke-width="0.35"/>
<text x="119.80" y="269.02" font-size="3.2" text-anchor="end" fill="#222" stroke="#222" stroke-width="0.08" font-weight="normal">1</text>
<line x1="120.20" y1="259.08" x2="121.10" y2="259.08" stroke="#444" stroke-width="0.35"/>
<text x="119.80" y="260.18" font-size="3.2" text-anchor="end" fill="#222" stroke="#222" stroke-width="0.08" font-weight="normal">1.5</text>
<line x1="120.20" y1="250.24" x2="121.10" y2="250.24" stroke="#444" stroke-width="0.35"/>
<text x="119.80" y="251.34" font-size="3.2" text-anchor="end" fill="#222" stroke="#222" stroke-width="0.08" font-weight="normal">2</text>
<line x1="120.20" y1="241.40" x2="121.10" y2="241.40" stroke="#444" stroke-width="0.35"/>
<text x="119.80" y="242.50" font-size="3.2" text-anchor="end" fill="#222" stroke="#222" stroke-width="0.08" font-weight="normal">2.5</text>
<circle cx="125.93" cy="247.41" r="1.0" fill="#188888"/>
<circle cx="126.32" cy="253.78" r="1.0" fill="#188888"/>
<circle cx="126.30" cy="265.27" r="1.0" fill="#188888"/>
<circle cx="127.93" cy="267.04" r="1.0" fill="#188888"/>
<circle cx="126.24" cy="268.80" r="1.0" fill="#188888"/>
<circle cx="127.00" cy="271.46" r="1.0" fill="#188888"/>
<circle cx="125.84" cy="273.22" r="1.0" fill="#188888"/>
<circle cx="126.45" cy="274.99" r="1.0" fill="#188888"/>
<circle cx="125.27" cy="275.88" r="1.0" fill="#188888"/>
<circle cx="126.10" cy="264.38" r="1.0" fill="#188888"/>
<line x1="124.20" y1="266.22" x2="129.80" y2="266.22" stroke="#188888" stroke-width="0.45"/>
<line x1="127.00" y1="256.99" x2="127.00" y2="275.45" stroke="#188888" stroke-width="0.35"/>
<line x1="125.60" y1="256.99" x2="128.40" y2="256.99" stroke="#188888" stroke-width="0.35"/>
<line x1="125.60" y1="275.45" x2="128.40" y2="275.45" stroke="#188888" stroke-width="0.35"/>
<rect x="144.80" y="241.40" width="63.90" height="44.20" fill="none" stroke="#bbb" stroke-width="0.4"/>
<line x1="144.80" y1="241.40" x2="144.80" y2="285.60" stroke="#444" stroke-width="0.45"/>
<line x1="144.80" y1="285.60" x2="208.70" y2="285.60" stroke="#444" stroke-width="0.45"/>
<line x1="143.90" y1="285.60" x2="144.80" y2="285.60" stroke="#444" stroke-width="0.35"/>
<text x="143.50" y="286.70" font-size="3.2" text-anchor="end" fill="#222" stroke="#222" stroke-width="0.08" font-weight="normal">0</text>
<line x1="143.90" y1="274.55" x2="144.80" y2="274.55" stroke="#444" stroke-width="0.35"/>
<text x="143.50" y="275.65" font-size="3.2" text-anchor="end" fill="#222" stroke="#222" stroke-width="0.08" font-weight="normal">2</text>
<line x1="143.90" y1="263.50" x2="144.80" y2="263.50" stroke="#444" stroke-width="0.35"/>
<text x="143.50" y="264.60" font-size="3.2" text-anchor="end" fill="#222" stroke="#222" stroke-width="0.08" font-weight="normal">4</text>
<line x1="143.90" y1="252.45" x2="144.80" y2="252.45" stroke="#444" stroke-width="0.35"/>
<text x="143.50" y="253.55" font-size="3.2" text-anchor="end" fill="#222" stroke="#222" stroke-width="0.08" font-weight="normal">6</text>
<line x1="143.90" y1="241.40" x2="144.80" y2="241.40" stroke="#444" stroke-width="0.35"/>
<text x="143.50" y="242.50" font-size="3.2" text-anchor="end" fill="#222" stroke="#222" stroke-width="0.08" font-weight="normal">8</text>
<circle cx="153.14" cy="277.05" r="1.0" fill="#1f9a5a"/>
<circle cx="151.37" cy="280.28" r="1.0" fill="#1f9a5a"/>
<circle cx="151.83" cy="281.99" r="1.0" fill="#1f9a5a"/>
<circle cx="152.55" cy="281.08" r="1.0" fill="#1f9a5a"/>
<circle cx="153.73" cy="285.60" r="1.0" fill="#1f9a5a"/>
<circle cx="151.17" cy="279.81" r="1.0" fill="#1f9a5a"/>
<circle cx="153.13" cy="277.42" r="1.0" fill="#1f9a5a"/>
<circle cx="152.63" cy="278.10" r="1.0" fill="#1f9a5a"/>
<circle cx="152.34" cy="282.98" r="1.0" fill="#1f9a5a"/>
<circle cx="151.42" cy="270.13" r="1.0" fill="#1f9a5a"/>
<line x1="149.00" y1="279.44" x2="154.60" y2="279.44" stroke="#1f9a5a" stroke-width="0.45"/>
<line x1="151.80" y1="275.24" x2="151.80" y2="283.64" stroke="#1f9a5a" stroke-width="0.35"/>
<line x1="150.40" y1="275.24" x2="153.20" y2="275.24" stroke="#1f9a5a" stroke-width="0.35"/>
<line x1="150.40" y1="283.64" x2="153.20" y2="283.64" stroke="#1f9a5a" stroke-width="0.35"/>
<circle cx="163.27" cy="275.71" r="1.0" fill="#d4cc1f"/>
<circle cx="163.38" cy="277.95" r="1.0" fill="#d4cc1f"/>
<circle cx="162.58" cy="276.41" r="1.0" fill="#d4cc1f"/>
<circle cx="161.03" cy="276.44" r="1.0" fill="#d4cc1f"/>
<circle cx="160.87" cy="276.39" r="1.0" fill="#d4cc1f"/>
<circle cx="161.07" cy="277.46" r="1.0" fill="#d4cc1f"/>
<circle cx="161.74" cy="279.86" r="1.0" fill="#d4cc1f"/>
<circle cx="160.53" cy="276.59" r="1.0" fill="#d4cc1f"/>
<circle cx="161.68" cy="276.12" r="1.0" fill="#d4cc1f"/>
<circle cx="160.95" cy="266.81" r="1.0" fill="#d4cc1f"/>
<line x1="159.10" y1="275.97" x2="164.70" y2="275.97" stroke="#d4cc1f" stroke-width="0.45"/>
<line x1="161.90" y1="272.54" x2="161.90" y2="279.41" stroke="#d4cc1f" stroke-width="0.35"/>
<line x1="160.50" y1="272.54" x2="163.30" y2="272.54" stroke="#d4cc1f" stroke-width="0.35"/>
<line x1="160.50" y1="279.41" x2="163.30" y2="279.41" stroke="#d4cc1f" stroke-width="0.35"/>
<circle cx="172.01" cy="251.75" r="1.0" fill="#e0862a"/>
<circle cx="170.80" cy="273.25" r="1.0" fill="#e0862a"/>
<circle cx="172.02" cy="273.77" r="1.0" fill="#e0862a"/>
<circle cx="170.02" cy="270.47" r="1.0" fill="#e0862a"/>
<circle cx="171.06" cy="263.45" r="1.0" fill="#e0862a"/>
<circle cx="170.36" cy="270.25" r="1.0" fill="#e0862a"/>
<circle cx="171.60" cy="269.22" r="1.0" fill="#e0862a"/>
<circle cx="170.17" cy="268.78" r="1.0" fill="#e0862a"/>
<circle cx="170.09" cy="274.56" r="1.0" fill="#e0862a"/>
<circle cx="171.22" cy="245.82" r="1.0" fill="#e0862a"/>
<line x1="169.20" y1="266.13" x2="174.80" y2="266.13" stroke="#e0862a" stroke-width="0.45"/>
<line x1="172.00" y1="256.36" x2="172.00" y2="275.90" stroke="#e0862a" stroke-width="0.35"/>
<line x1="170.60" y1="256.36" x2="173.40" y2="256.36" stroke="#e0862a" stroke-width="0.35"/>
<line x1="170.60" y1="275.90" x2="173.40" y2="275.90" stroke="#e0862a" stroke-width="0.35"/>
<circle cx="181.50" cy="278.51" r="1.0" fill="#6d1b85"/>
<circle cx="184.14" cy="280.23" r="1.0" fill="#6d1b85"/>
<circle cx="180.80" cy="276.98" r="1.0" fill="#6d1b85"/>
<circle cx="183.10" cy="285.15" r="1.0" fill="#6d1b85"/>
<circle cx="182.77" cy="281.47" r="1.0" fill="#6d1b85"/>
<circle cx="180.38" cy="283.03" r="1.0" fill="#6d1b85"/>
<circle cx="183.54" cy="284.29" r="1.0" fill="#6d1b85"/>
<circle cx="183.77" cy="278.64" r="1.0" fill="#6d1b85"/>
<circle cx="182.71" cy="282.52" r="1.0" fill="#6d1b85"/>
<circle cx="183.14" cy="265.71" r="1.0" fill="#6d1b85"/>
<line x1="179.40" y1="279.65" x2="185.00" y2="279.65" stroke="#6d1b85" stroke-width="0.45"/>
<line x1="182.20" y1="274.09" x2="182.20" y2="285.22" stroke="#6d1b85" stroke-width="0.35"/>
<line x1="180.80" y1="274.09" x2="183.60" y2="274.09" stroke="#6d1b85" stroke-width="0.35"/>
<line x1="180.80" y1="285.22" x2="183.60" y2="285.22" stroke="#6d1b85" stroke-width="0.35"/>
<circle cx="193.07" cy="282.94" r="1.0" fill="#9a7fe0"/>
<circle cx="191.22" cy="283.53" r="1.0" fill="#9a7fe0"/>
<circle cx="190.42" cy="284.08" r="1.0" fill="#9a7fe0"/>
<circle cx="190.83" cy="283.26" r="1.0" fill="#9a7fe0"/>
<circle cx="191.74" cy="282.35" r="1.0" fill="#9a7fe0"/>
<circle cx="190.72" cy="284.40" r="1.0" fill="#9a7fe0"/>
<circle cx="193.64" cy="282.61" r="1.0" fill="#9a7fe0"/>
<circle cx="192.53" cy="284.09" r="1.0" fill="#9a7fe0"/>
<circle cx="192.81" cy="282.13" r="1.0" fill="#9a7fe0"/>
<line x1="189.50" y1="283.27" x2="195.10" y2="283.27" stroke="#9a7fe0" stroke-width="0.45"/>
<line x1="192.30" y1="282.45" x2="192.30" y2="284.09" stroke="#9a7fe0" stroke-width="0.35"/>
<line x1="190.90" y1="282.45" x2="193.70" y2="282.45" stroke="#9a7fe0" stroke-width="0.35"/>
<line x1="190.90" y1="284.09" x2="193.70" y2="284.09" stroke="#9a7fe0" stroke-width="0.35"/>
<circle cx="202.24" cy="284.46" r="1.0" fill="#d41e6e"/>
<circle cx="199.86" cy="284.53" r="1.0" fill="#d41e6e"/>
<circle cx="202.55" cy="284.54" r="1.0" fill="#d41e6e"/>
<circle cx="200.61" cy="283.99" r="1.0" fill="#d41e6e"/>
<circle cx="199.90" cy="283.94" r="1.0" fill="#d41e6e"/>
<circle cx="200.66" cy="283.67" r="1.0" fill="#d41e6e"/>
<circle cx="202.52" cy="284.82" r="1.0" fill="#d41e6e"/>
<circle cx="200.42" cy="284.63" r="1.0" fill="#d41e6e"/>
<circle cx="202.56" cy="283.96" r="1.0" fill="#d41e6e"/>
<line x1="198.80" y1="284.28" x2="204.40" y2="284.28" stroke="#d41e6e" stroke-width="0.45"/>
<line x1="201.60" y1="283.89" x2="201.60" y2="284.68" stroke="#d41e6e" stroke-width="0.35"/>
<line x1="200.20" y1="283.89" x2="203.00" y2="283.89" stroke="#d41e6e" stroke-width="0.35"/>
<line x1="200.20" y1="284.68" x2="203.00" y2="284.68" stroke="#d41e6e" stroke-width="0.35"/>
<text x="111.70" y="263.90" font-size="4.4" text-anchor="middle" fill="#222" stroke="#222" stroke-width="0.08" font-weight="normal" transform="rotate(-90 111.7 263.9)"># of cells (x10<tspan font-size="2.9" dy="-1.3">5</tspan><tspan dy="1.3">)</tspan></text>
<text x="138.00" y="263.90" font-size="4.4" text-anchor="middle" fill="#222" stroke="#222" stroke-width="0.08" font-weight="normal" transform="rotate(-90 138.0 263.9)"># of cells (x10<tspan font-size="2.9" dy="-1.3">5</tspan><tspan dy="1.3">)</tspan></text>
<text x="22.20" y="288.60" font-size="4.0" text-anchor="end" fill="#222" stroke="#222" stroke-width="0.08" font-weight="normal" transform="rotate(-45 22.2 288.6)">CNS-resident<tspan x="22.20" dy="4.5">myeloid cells</tspan></text>
<text x="42.50" y="288.60" font-size="4.0" text-anchor="end" fill="#222" stroke="#222" stroke-width="0.08" font-weight="normal" transform="rotate(-45 42.5 288.6)">NK/ILC/other</text>
<text x="52.60" y="288.60" font-size="4.0" text-anchor="end" fill="#222" stroke="#222" stroke-width="0.08" font-weight="normal" transform="rotate(-45 52.6 288.6)">CD4 T cells</text>
<text x="62.20" y="288.60" font-size="4.0" text-anchor="end" fill="#222" stroke="#222" stroke-width="0.08" font-weight="normal" transform="rotate(-45 62.2 288.6)">CD8 T cells</text>
<text x="72.30" y="288.60" font-size="4.0" text-anchor="end" fill="#222" stroke="#222" stroke-width="0.08" font-weight="normal" transform="rotate(-45 72.3 288.6)">Inflammatory<tspan x="72.30" dy="4.5">monocytes</tspan></text>
<text x="83.30" y="288.60" font-size="4.0" text-anchor="end" fill="#222" stroke="#222" stroke-width="0.08" font-weight="normal" transform="rotate(-45 83.3 288.6)">Ly6C<tspan font-size="2.6" dy="-1">hi</tspan><tspan dy="1"> Ly6G</tspan><tspan font-size="2.6" dy="-1">-</tspan><tspan x="83.30" dy="5.5">myeloid cells</tspan></text>
<text x="92.60" y="288.60" font-size="4.0" text-anchor="end" fill="#222" stroke="#222" stroke-width="0.08" font-weight="normal" transform="rotate(-45 92.60000000000001 288.6)">B cells</text>
<text x="126.40" y="288.60" font-size="4.0" text-anchor="end" fill="#222" stroke="#222" stroke-width="0.08" font-weight="normal" transform="rotate(-45 126.4 288.6)">CNS-resident<tspan x="126.40" dy="4.5">myeloid cells</tspan></text>
<text x="152.00" y="288.60" font-size="4.0" text-anchor="end" fill="#222" stroke="#222" stroke-width="0.08" font-weight="normal" transform="rotate(-45 152.0 288.6)">NK/ILC/other</text>
<text x="162.10" y="288.60" font-size="4.0" text-anchor="end" fill="#222" stroke="#222" stroke-width="0.08" font-weight="normal" transform="rotate(-45 162.1 288.6)">CD4 T cells</text>
<text x="172.20" y="288.60" font-size="4.0" text-anchor="end" fill="#222" stroke="#222" stroke-width="0.08" font-weight="normal" transform="rotate(-45 172.2 288.6)">CD8 T cells</text>
<text x="182.40" y="288.60" font-size="4.0" text-anchor="end" fill="#222" stroke="#222" stroke-width="0.08" font-weight="normal" transform="rotate(-45 182.39999999999998 288.6)">Inflammatory<tspan x="182.40" dy="4.5">monocytes</tspan></text>
<text x="192.50" y="288.60" font-size="4.0" text-anchor="end" fill="#222" stroke="#222" stroke-width="0.08" font-weight="normal" transform="rotate(-45 192.5 288.6)">Ly6C<tspan font-size="2.6" dy="-1">hi</tspan><tspan dy="1"> Ly6G</tspan><tspan font-size="2.6" dy="-1">-</tspan><tspan x="192.50" dy="5.5">myeloid cells</tspan></text>
<text x="201.80" y="288.60" font-size="4.0" text-anchor="end" fill="#222" stroke="#222" stroke-width="0.08" font-weight="normal" transform="rotate(-45 201.79999999999998 288.6)">B cells</text>
<defs><linearGradient id="cbar" x1="0" x2="1" y1="0" y2="0"><stop offset="0" stop-color="#101060"/><stop offset="0.12" stop-color="#1838c8"/><stop offset="0.3" stop-color="#2060e0"/><stop offset="0.45" stop-color="#30b850"/><stop offset="0.6" stop-color="#60d030"/><stop offset="0.72" stop-color="#e8e020"/><stop offset="0.85" stop-color="#f08020"/><stop offset="1" stop-color="#e03020"/></linearGradient></defs>
<text x="220.50" y="148.38" font-size="5.5" fill="#111" stroke="#111" stroke-width="0.25" font-weight="bold">F</text>
<text x="250.60" y="155.70" font-size="5.9" text-anchor="middle" fill="#222" stroke="#222" stroke-width="0.08" font-weight="normal">H-2D<tspan font-size="3.6" dy="-1.7">b</tspan></text>
<path d="M255,165.10 L259.1,162.40 L264.5,161.10 L267.9,163.10 L269.2,167.20 L267.9,171.20 L264.5,175.30 L260.4,177.30 L257.1,175.30 L254.4,171.20 Z" fill="url(#pFbig)" stroke="none" stroke-width="0.4"/>
<path d="M253,176.00 L257.1,175.30 L260.4,178.70 L261.1,183.40 L259.1,188.10 L255.7,188.80 L253,186.10 L252.1,180.70 Z" fill="url(#pFora)" stroke="none" stroke-width="0.4"/>
<path d="M240.4,164.00 L242.6,161.90 L245.6,162.40 L246.4,165.00 L245.2,167.60 L242.2,167.80 L240.5,166.20 Z" fill="url(#pFsm)" stroke="none" stroke-width="0.4"/>
<path d="M232.8,179.50 L235.5,177.00 L239.5,176.60 L242.2,178.40 L241.6,181.50 L238.5,183.40 L234.6,183.00 Z" fill="url(#pFlc)" stroke="none" stroke-width="0.4"/>
<path d="M241.6,180.00 L244.5,177.40 L248.5,178.00 L251.0,181.00 L250.8,185.50 L249.0,189.80 L245.5,190.80 L243.0,188.00 L242.0,184.00 Z" fill="url(#pFmc)" stroke="none" stroke-width="0.4"/>
<path d="M240.9,193.00 L243.0,192.20 L245.6,193.60 L246.2,196.20 L243.6,197.00 L241.6,195.60 Z" fill="url(#pFlo)" stroke="none" stroke-width="0.4"/>
<path d="M265.6,183.00 L266.6,186.00" stroke="#b8d870" stroke-width="0.6"/>
<line x1="225.20" y1="190.40" x2="225.20" y2="201.60" stroke="#444" stroke-width="0.45"/>
<line x1="225.20" y1="201.60" x2="237.00" y2="201.60" stroke="#444" stroke-width="0.45"/>
<path d="M224.45,191.1 L225.2,189.6 L225.95,191.1 Z" fill="#222"/>
<path d="M236.3,200.85 L237.8,201.6 L236.3,202.35 Z" fill="#222"/>
<text x="223.04" y="195.60" font-size="3.5" text-anchor="middle" fill="#222" stroke="#222" stroke-width="0.08" font-weight="normal" transform="rotate(-90 223.04 195.6)">UMAP-2</text>
<text x="225.40" y="205.42" font-size="3.5" text-anchor="start" fill="#222" stroke="#222" stroke-width="0.08" font-weight="normal">UMAP-1</text>
<text x="250.40" y="205.00" font-size="4.4" text-anchor="start" fill="#222" stroke="#222" stroke-width="0.04" font-weight="normal">Min</text>
<rect x="257.1" y="202.1" width="14.7" height="2.8" fill="url(#cbar)"/>
<text x="271.80" y="205.00" font-size="4.4" text-anchor="start" fill="#222" stroke="#222" stroke-width="0.04" font-weight="normal">Max</text>
<text x="220.50" y="236.28" font-size="5.5" fill="#111" stroke="#111" stroke-width="0.25" font-weight="bold">G</text>
<text x="250.60" y="239.80" font-size="5.9" text-anchor="middle" fill="#222" stroke="#222" stroke-width="0.08" font-weight="normal">H-2K<tspan font-size="3.6" dy="-1.7">b</tspan></text>
<path d="M254.4,251.20 L257.1,247.10 L261.8,245.10 L266.5,246.40 L268.6,250.50 L267.9,255.90 L264.5,261.30 L260.4,262.00 L256.4,259.30 L254.4,255.20 Z" fill="url(#pGbig)" stroke="none" stroke-width="0.4"/>
<path d="M256.4,259.30 L260.4,262.00 L264.5,261.30 L266.5,258.70 L262,259.70 L258,257.70 Z" fill="#3a9a8a" stroke="none" stroke-width="0.4"/>
<path d="M252.3,260.00 L257.1,258.60 L261.1,262.70 L261.8,268.10 L259.1,272.80 L255,272.80 L252.3,268.70 L251.7,264.00 Z" fill="url(#pGyel)" stroke="none" stroke-width="0.4"/>
<path d="M252.3,260.00 L257.1,258.60 L259.5,260.70 L255.5,262.00 L252.0,262.70 Z" fill="#8cc840" stroke="none" stroke-width="0.4"/>
<path d="M253,270.20 L259.5,271.70 L259.1,272.80 L255,272.80 Z" fill="#f0a030" stroke="none" stroke-width="0.4"/>
<path d="M240.4,248.20 L242.6,246.10 L245.6,246.60 L246.4,249.20 L245.2,251.80 L242.2,252.00 L240.5,250.40 Z" fill="url(#pGsm)" stroke="none" stroke-width="0.4"/>
<path d="M232.8,263.70 L235.5,261.20 L239.5,260.80 L242.2,262.60 L241.6,265.70 L238.5,267.60 L234.6,267.20 Z" fill="url(#pGlc)" stroke="none" stroke-width="0.4"/>
<path d="M241.6,264.20 L244.5,261.60 L248.5,262.20 L251.0,265.20 L250.8,269.70 L249.0,274.00 L245.5,275.00 L243.0,272.20 L242.0,268.20 Z" fill="url(#pGmc)" stroke="none" stroke-width="0.4"/>
<path d="M240.9,277.20 L243.0,276.40 L245.6,277.80 L246.2,280.40 L243.6,281.20 L241.6,279.80 Z" fill="url(#pGlo)" stroke="none" stroke-width="0.4"/>
<path d="M265.6,267.20 L266.6,270.20" stroke="#e8b860" stroke-width="0.6"/>
<line x1="225.20" y1="274.60" x2="225.20" y2="285.80" stroke="#444" stroke-width="0.45"/>
<line x1="225.20" y1="285.80" x2="237.00" y2="285.80" stroke="#444" stroke-width="0.45"/>
<path d="M224.45,275.3 L225.2,273.8 L225.95,275.3 Z" fill="#222"/>
<path d="M236.3,285.05 L237.8,285.8 L236.3,286.55 Z" fill="#222"/>
<text x="223.04" y="279.80" font-size="3.5" text-anchor="middle" fill="#222" stroke="#222" stroke-width="0.08" font-weight="normal" transform="rotate(-90 223.04 279.8)">UMAP-2</text>
<text x="225.40" y="289.62" font-size="3.5" text-anchor="start" fill="#222" stroke="#222" stroke-width="0.08" font-weight="normal">UMAP-1</text>
<text x="250.40" y="289.20" font-size="4.4" text-anchor="start" fill="#222" stroke="#222" stroke-width="0.04" font-weight="normal">Min</text>
<rect x="257.1" y="286.3" width="14.7" height="2.8" fill="url(#cbar)"/>
<text x="271.80" y="289.20" font-size="4.4" text-anchor="start" fill="#222" stroke="#222" stroke-width="0.04" font-weight="normal">Max</text>
<line x1="304.00" y1="151.80" x2="304.00" y2="193.60" stroke="#222" stroke-width="0.45"/>
<line x1="304.00" y1="193.60" x2="348.50" y2="193.60" stroke="#222" stroke-width="0.45"/>
<line x1="303.10" y1="193.60" x2="304.00" y2="193.60" stroke="#222" stroke-width="0.35"/>
<text x="302.70" y="194.70" font-size="3.3" text-anchor="end" fill="#222" stroke="#222" stroke-width="0.1" font-weight="normal">0</text>
<line x1="303.10" y1="183.15" x2="304.00" y2="183.15" stroke="#222" stroke-width="0.35"/>
<text x="302.70" y="184.25" font-size="3.3" text-anchor="end" fill="#222" stroke="#222" stroke-width="0.1" font-weight="normal">5</text>
<line x1="303.10" y1="172.70" x2="304.00" y2="172.70" stroke="#222" stroke-width="0.35"/>
<text x="302.70" y="173.80" font-size="3.3" text-anchor="end" fill="#222" stroke="#222" stroke-width="0.1" font-weight="normal">10</text>
<line x1="303.10" y1="162.25" x2="304.00" y2="162.25" stroke="#222" stroke-width="0.35"/>
<text x="302.70" y="163.35" font-size="3.3" text-anchor="end" fill="#222" stroke="#222" stroke-width="0.1" font-weight="normal">15</text>
<line x1="303.10" y1="151.80" x2="304.00" y2="151.80" stroke="#222" stroke-width="0.35"/>
<text x="302.70" y="152.90" font-size="3.3" text-anchor="end" fill="#222" stroke="#222" stroke-width="0.1" font-weight="normal">20</text>
<rect x="306.30" y="171.03" width="4.40" height="22.57" fill="#111" stroke="none" stroke-width="0.4"/>
<line x1="308.50" y1="163.30" x2="308.50" y2="171.03" stroke="#666" stroke-width="0.35"/>
<line x1="307.50" y1="163.30" x2="309.50" y2="163.30" stroke="#666" stroke-width="0.35"/>
<line x1="308.50" y1="193.60" x2="308.50" y2="194.50" stroke="#222" stroke-width="0.35"/>
<text x="309.85" y="195.80" font-size="3.8" text-anchor="end" fill="#222" stroke="#222" stroke-width="0.1" font-weight="normal" transform="rotate(-90 309.85 195.79999999999998)">CNS-resident</text>
<rect x="311.52" y="191.61" width="4.40" height="1.99" fill="#111" stroke="none" stroke-width="0.4"/>
<line x1="313.72" y1="193.60" x2="313.72" y2="194.50" stroke="#222" stroke-width="0.35"/>
<text x="315.07" y="195.80" font-size="3.8" text-anchor="end" fill="#222" stroke="#222" stroke-width="0.1" font-weight="normal" transform="rotate(-90 315.07000000000005 195.79999999999998)">NK/ILC</text>
<rect x="316.74" y="191.20" width="4.40" height="2.40" fill="#111" stroke="none" stroke-width="0.4"/>
<line x1="318.94" y1="190.57" x2="318.94" y2="191.20" stroke="#666" stroke-width="0.35"/>
<line x1="317.94" y1="190.57" x2="319.94" y2="190.57" stroke="#666" stroke-width="0.35"/>
<line x1="318.94" y1="193.60" x2="318.94" y2="194.50" stroke="#222" stroke-width="0.35"/>
<text x="320.29" y="195.80" font-size="3.8" text-anchor="end" fill="#222" stroke="#222" stroke-width="0.1" font-weight="normal" transform="rotate(-90 320.29 195.79999999999998)">CD4 T cell</text>
<rect x="321.96" y="192.03" width="4.40" height="1.57" fill="#111" stroke="none" stroke-width="0.4"/>
<line x1="324.16" y1="193.60" x2="324.16" y2="194.50" stroke="#222" stroke-width="0.35"/>
<text x="325.51" y="195.80" font-size="3.8" text-anchor="end" fill="#222" stroke="#222" stroke-width="0.1" font-weight="normal" transform="rotate(-90 325.51000000000005 195.79999999999998)">CD8 T cell</text>
<rect x="327.18" y="191.20" width="4.40" height="2.40" fill="#111" stroke="none" stroke-width="0.4"/>
<line x1="329.38" y1="190.78" x2="329.38" y2="191.20" stroke="#666" stroke-width="0.35"/>
<line x1="328.38" y1="190.78" x2="330.38" y2="190.78" stroke="#666" stroke-width="0.35"/>
<line x1="329.38" y1="193.60" x2="329.38" y2="194.50" stroke="#222" stroke-width="0.35"/>
<text x="330.73" y="195.80" font-size="3.8" text-anchor="end" fill="#222" stroke="#222" stroke-width="0.1" font-weight="normal" transform="rotate(-90 330.73 195.79999999999998)">Inf. monocytes</text>
<rect x="332.40" y="191.51" width="4.40" height="2.09" fill="#111" stroke="none" stroke-width="0.4"/>
<line x1="334.60" y1="193.60" x2="334.60" y2="194.50" stroke="#222" stroke-width="0.35"/>
<text x="335.95" y="195.80" font-size="3.8" text-anchor="end" fill="#222" stroke="#222" stroke-width="0.1" font-weight="normal" transform="rotate(-90 335.95000000000005 195.79999999999998)">Ly6C<tspan font-size="2" dy="-0.8">hi</tspan><tspan dy="0.8">Ly6G</tspan><tspan font-size="2" dy="-0.8">-</tspan><tspan dy="0.8"> myeloid</tspan></text>
<rect x="337.62" y="191.61" width="4.40" height="1.99" fill="#111" stroke="none" stroke-width="0.4"/>
<line x1="339.82" y1="193.60" x2="339.82" y2="194.50" stroke="#222" stroke-width="0.35"/>
<text x="341.17" y="195.80" font-size="3.8" text-anchor="end" fill="#222" stroke="#222" stroke-width="0.1" font-weight="normal" transform="rotate(-90 341.17 195.79999999999998)">B cell</text>
<rect x="342.84" y="187.33" width="4.40" height="6.27" fill="#111" stroke="none" stroke-width="0.4"/>
<line x1="345.04" y1="185.03" x2="345.04" y2="187.33" stroke="#666" stroke-width="0.35"/>
<line x1="344.04" y1="185.03" x2="346.04" y2="185.03" stroke="#666" stroke-width="0.35"/>
<line x1="345.04" y1="193.60" x2="345.04" y2="194.50" stroke="#222" stroke-width="0.35"/>
<text x="346.39" y="195.80" font-size="3.8" text-anchor="end" fill="#222" stroke="#222" stroke-width="0.1" font-weight="normal" transform="rotate(-90 346.39000000000004 195.79999999999998)">DCs</text>
<text x="289.80" y="175.20" font-size="4.3" text-anchor="middle" fill="#111" stroke="#111" stroke-width="0.12" font-weight="normal" transform="rotate(-90 289.8 175.2)">Fold change H-2D<tspan font-size="2.6" dy="-1.2">b</tspan></text>
<text x="295.00" y="175.20" font-size="4.3" text-anchor="middle" fill="#111" stroke="#111" stroke-width="0.12" font-weight="normal" transform="rotate(-90 295.0 175.2)">(7 dpi / Naive)</text>
<line x1="304.00" y1="240.20" x2="304.00" y2="281.90" stroke="#222" stroke-width="0.45"/>
<line x1="304.00" y1="281.90" x2="348.50" y2="281.90" stroke="#222" stroke-width="0.45"/>
<line x1="303.10" y1="281.90" x2="304.00" y2="281.90" stroke="#222" stroke-width="0.35"/>
<text x="302.70" y="283.00" font-size="3.3" text-anchor="end" fill="#222" stroke="#222" stroke-width="0.1" font-weight="normal">0</text>
<line x1="303.10" y1="271.47" x2="304.00" y2="271.47" stroke="#222" stroke-width="0.35"/>
<text x="302.70" y="272.57" font-size="3.3" text-anchor="end" fill="#222" stroke="#222" stroke-width="0.1" font-weight="normal">5</text>
<line x1="303.10" y1="261.05" x2="304.00" y2="261.05" stroke="#222" stroke-width="0.35"/>
<text x="302.70" y="262.15" font-size="3.3" text-anchor="end" fill="#222" stroke="#222" stroke-width="0.1" font-weight="normal">10</text>
<line x1="303.10" y1="250.62" x2="304.00" y2="250.62" stroke="#222" stroke-width="0.35"/>
<text x="302.70" y="251.72" font-size="3.3" text-anchor="end" fill="#222" stroke="#222" stroke-width="0.1" font-weight="normal">15</text>
<line x1="303.10" y1="240.20" x2="304.00" y2="240.20" stroke="#222" stroke-width="0.35"/>
<text x="302.70" y="241.30" font-size="3.3" text-anchor="end" fill="#222" stroke="#222" stroke-width="0.1" font-weight="normal">20</text>
<rect x="306.30" y="253.54" width="4.40" height="28.36" fill="#111" stroke="none" stroke-width="0.4"/>
<line x1="308.50" y1="252.71" x2="308.50" y2="253.54" stroke="#666" stroke-width="0.35"/>
<line x1="307.50" y1="252.71" x2="309.50" y2="252.71" stroke="#666" stroke-width="0.35"/>
<line x1="308.50" y1="281.90" x2="308.50" y2="282.80" stroke="#222" stroke-width="0.35"/>
<text x="309.85" y="284.10" font-size="3.8" text-anchor="end" fill="#222" stroke="#222" stroke-width="0.1" font-weight="normal" transform="rotate(-90 309.85 284.09999999999997)">CNS-resident</text>
<rect x="311.52" y="280.65" width="4.40" height="1.25" fill="#111" stroke="none" stroke-width="0.4"/>
<line x1="313.72" y1="281.90" x2="313.72" y2="282.80" stroke="#222" stroke-width="0.35"/>
<text x="315.07" y="284.10" font-size="3.8" text-anchor="end" fill="#222" stroke="#222" stroke-width="0.1" font-weight="normal" transform="rotate(-90 315.07000000000005 284.09999999999997)">NK/ILC</text>
<rect x="316.74" y="280.65" width="4.40" height="1.25" fill="#111" stroke="none" stroke-width="0.4"/>
<line x1="318.94" y1="281.90" x2="318.94" y2="282.80" stroke="#222" stroke-width="0.35"/>
<text x="320.29" y="284.10" font-size="3.8" text-anchor="end" fill="#222" stroke="#222" stroke-width="0.1" font-weight="normal" transform="rotate(-90 320.29 284.09999999999997)">CD4 T cell</text>
<rect x="321.96" y="280.65" width="4.40" height="1.25" fill="#111" stroke="none" stroke-width="0.4"/>
<line x1="324.16" y1="281.90" x2="324.16" y2="282.80" stroke="#222" stroke-width="0.35"/>
<text x="325.51" y="284.10" font-size="3.8" text-anchor="end" fill="#222" stroke="#222" stroke-width="0.1" font-weight="normal" transform="rotate(-90 325.51000000000005 284.09999999999997)">CD8 T cell</text>
<rect x="327.18" y="280.02" width="4.40" height="1.88" fill="#111" stroke="none" stroke-width="0.4"/>
<line x1="329.38" y1="281.90" x2="329.38" y2="282.80" stroke="#222" stroke-width="0.35"/>
<text x="330.73" y="284.10" font-size="3.8" text-anchor="end" fill="#222" stroke="#222" stroke-width="0.1" font-weight="normal" transform="rotate(-90 330.73 284.09999999999997)">Inf. monocytes</text>
<rect x="332.40" y="277.52" width="4.40" height="4.38" fill="#111" stroke="none" stroke-width="0.4"/>
<line x1="334.60" y1="275.44" x2="334.60" y2="277.52" stroke="#666" stroke-width="0.35"/>
<line x1="333.60" y1="275.44" x2="335.60" y2="275.44" stroke="#666" stroke-width="0.35"/>
<line x1="334.60" y1="281.90" x2="334.60" y2="282.80" stroke="#222" stroke-width="0.35"/>
<text x="335.95" y="284.10" font-size="3.8" text-anchor="end" fill="#222" stroke="#222" stroke-width="0.1" font-weight="normal" transform="rotate(-90 335.95000000000005 284.09999999999997)">Ly6C<tspan font-size="2" dy="-0.8">hi</tspan><tspan dy="0.8">Ly6G</tspan><tspan font-size="2" dy="-0.8">-</tspan><tspan dy="0.8"> myeloid</tspan></text>
<rect x="337.62" y="280.44" width="4.40" height="1.46" fill="#111" stroke="none" stroke-width="0.4"/>
<line x1="339.82" y1="281.90" x2="339.82" y2="282.80" stroke="#222" stroke-width="0.35"/>
<text x="341.17" y="284.10" font-size="3.8" text-anchor="end" fill="#222" stroke="#222" stroke-width="0.1" font-weight="normal" transform="rotate(-90 341.17 284.09999999999997)">B cell</text>
<rect x="342.84" y="266.68" width="4.40" height="15.22" fill="#111" stroke="none" stroke-width="0.4"/>
<line x1="345.04" y1="256.67" x2="345.04" y2="266.68" stroke="#666" stroke-width="0.35"/>
<line x1="344.04" y1="256.67" x2="346.04" y2="256.67" stroke="#666" stroke-width="0.35"/>
<line x1="345.04" y1="281.90" x2="345.04" y2="282.80" stroke="#222" stroke-width="0.35"/>
<text x="346.39" y="284.10" font-size="3.8" text-anchor="end" fill="#222" stroke="#222" stroke-width="0.1" font-weight="normal" transform="rotate(-90 346.39000000000004 284.09999999999997)">DCs</text>
<text x="289.80" y="263.55" font-size="4.3" text-anchor="middle" fill="#111" stroke="#111" stroke-width="0.12" font-weight="normal" transform="rotate(-90 289.8 263.54999999999995)">Fold change H-2K<tspan font-size="2.6" dy="-1.2">b</tspan></text>
<text x="295.00" y="263.55" font-size="4.3" text-anchor="middle" fill="#111" stroke="#111" stroke-width="0.12" font-weight="normal" transform="rotate(-90 295.0 263.54999999999995)">(7 dpi / Naive)</text>
<text x="0.00" y="325.48" font-size="5.5" fill="#111" stroke="#111" stroke-width="0.25" font-weight="bold">H</text>
<text x="121.90" y="329.10" font-size="4.7" text-anchor="start" fill="#222" stroke="#222" stroke-width="0.08" font-weight="normal">CD45<tspan font-size="2.8" dy="-1.4">low</tspan><tspan dy="1.4"> CD11b</tspan><tspan font-size="2.8" dy="-1.4">+</tspan><tspan dy="1.4"> CX3CR1</tspan><tspan font-size="2.8" dy="-1.4">+</tspan><tspan dy="1.4"> (CNS-resident myeloid cells)</tspan></text>
<line x1="13.20" y1="331.20" x2="353.00" y2="331.20" stroke="#444" stroke-width="0.7"/>
<rect x="20.10" y="340.00" width="48.10" height="46.00" fill="none" stroke="#c4c4c4" stroke-width="0.4"/>
<path d="M33,386 L34.9,363 L36.4,348 C37,345 37.6,344.2 38,344.2 C38.6,344.4 39,346 39.3,346.8 L41.1,356.8 L43.6,369.3 L46.1,379.3 L48.8,386 Z" fill="#c6c6c6" stroke="#999" stroke-width="0.35"/>
<path d="M47.4,386 L49.9,369 L51.1,353 L52.0,345 C52.3,344.2 52.7,344.2 53.0,345 L53.6,348 L54.9,363 L56.1,379.3 L57,386 Z" fill="#d8baec" stroke="#b48ad6" stroke-width="0.35"/>
<line x1="20.10" y1="340.00" x2="20.10" y2="386.00" stroke="#333" stroke-width="0.45"/>
<line x1="20.10" y1="386.00" x2="68.20" y2="386.00" stroke="#333" stroke-width="0.45"/>
<line x1="19.20" y1="385.80" x2="20.10" y2="385.80" stroke="#333" stroke-width="0.35"/>
<text x="18.90" y="386.90" font-size="3.0" text-anchor="end" fill="#222" stroke="#222" stroke-width="0.08" font-weight="normal">0</text>
<line x1="19.20" y1="377.40" x2="20.10" y2="377.40" stroke="#333" stroke-width="0.35"/>
<text x="18.90" y="378.50" font-size="3.0" text-anchor="end" fill="#222" stroke="#222" stroke-width="0.08" font-weight="normal">20</text>
<line x1="19.20" y1="369.00" x2="20.10" y2="369.00" stroke="#333" stroke-width="0.35"/>
<text x="18.90" y="370.10" font-size="3.0" text-anchor="end" fill="#222" stroke="#222" stroke-width="0.08" font-weight="normal">40</text>
<line x1="19.20" y1="360.60" x2="20.10" y2="360.60" stroke="#333" stroke-width="0.35"/>
<text x="18.90" y="361.70" font-size="3.0" text-anchor="end" fill="#222" stroke="#222" stroke-width="0.08" font-weight="normal">60</text>
<line x1="19.20" y1="352.20" x2="20.10" y2="352.20" stroke="#333" stroke-width="0.35"/>
<text x="18.90" y="353.30" font-size="3.0" text-anchor="end" fill="#222" stroke="#222" stroke-width="0.08" font-weight="normal">80</text>
<line x1="19.20" y1="343.80" x2="20.10" y2="343.80" stroke="#333" stroke-width="0.35"/>
<text x="18.90" y="344.90" font-size="3.0" text-anchor="end" fill="#222" stroke="#222" stroke-width="0.08" font-weight="normal">100</text>
<line x1="23.47" y1="386.00" x2="23.47" y2="386.90" stroke="#333" stroke-width="0.35"/>
<text x="23.47" y="390.20" font-size="2.9" text-anchor="middle" fill="#222" stroke="#222" stroke-width="0.08" font-weight="normal">-10<tspan font-size="2.1" dy="-1">3</tspan></text>
<line x1="32.61" y1="386.00" x2="32.61" y2="386.90" stroke="#333" stroke-width="0.35"/>
<text x="32.61" y="390.20" font-size="2.9" text-anchor="middle" fill="#222" stroke="#222" stroke-width="0.08" font-weight="normal">0</text>
<line x1="43.67" y1="386.00" x2="43.67" y2="386.90" stroke="#333" stroke-width="0.35"/>
<text x="43.67" y="390.20" font-size="2.9" text-anchor="middle" fill="#222" stroke="#222" stroke-width="0.08" font-weight="normal">10<tspan font-size="2.1" dy="-1">3</tspan></text>
<line x1="54.73" y1="386.00" x2="54.73" y2="386.90" stroke="#333" stroke-width="0.35"/>
<text x="54.73" y="390.20" font-size="2.9" text-anchor="middle" fill="#222" stroke="#222" stroke-width="0.08" font-weight="normal">10<tspan font-size="2.1" dy="-1">4</tspan></text>
<line x1="65.80" y1="386.00" x2="65.80" y2="386.90" stroke="#333" stroke-width="0.35"/>
<text x="65.80" y="390.20" font-size="2.9" text-anchor="middle" fill="#222" stroke="#222" stroke-width="0.08" font-weight="normal">10<tspan font-size="2.1" dy="-1">5</tspan></text>
<rect x="31.41" y="385.20" width="2.4" height="0.8" fill="#111"/>
<text x="67.40" y="343.60" font-size="3.7" text-anchor="end" fill="#111" stroke="#111" stroke-width="0.12" font-weight="normal">naive</text>
<text x="67.40" y="348.40" font-size="3.7" text-anchor="end" fill="#c9a8e2" stroke="#c9a8e2" stroke-width="0.08" font-weight="normal">7dpi</text>
<text x="67.40" y="353.60" font-size="4.6" text-anchor="end" fill="#a56ad0" stroke="#a56ad0" stroke-width="0.08" font-weight="normal">TMEV</text>
<text x="40.15" y="396.30" font-size="4.6" text-anchor="middle" fill="#111" stroke="#111" stroke-width="0.08" font-weight="normal">PE : H-2D<tspan font-size="2.9" dy="-1.4">b</tspan></text>
<text x="6.90" y="364.00" font-size="4.7" text-anchor="middle" fill="#222" stroke="#222" stroke-width="0.08" font-weight="normal" transform="rotate(-90 6.9 364.0)">Count normalized</text>
<text x="12.90" y="364.00" font-size="4.7" text-anchor="middle" fill="#222" stroke="#222" stroke-width="0.08" font-weight="normal" transform="rotate(-90 12.9 364.0)">to mode</text>
<rect x="200.90" y="341.60" width="47.10" height="44.70" fill="none" stroke="#c4c4c4" stroke-width="0.4"/>
<path d="M210.6,386.1 L211.5,360 L212.0,345 C212.3,343.2 213.0,343.2 213.4,345 L214.0,360 L214.8,386.1 Z" fill="#c6c6c6" stroke="#999" stroke-width="0.35"/>
<path d="M215.6,386 L217.5,375.5 L219.4,356.8 L220.6,348 C221.5,345 222.3,344.3 222.5,344.3 C223,343.6 223.5,343.6 223.75,343.6 C224.5,344.5 225,347 225.6,349.3 L226.9,356.8 L228.75,369.3 L230.6,380.5 L231.9,386 Z" fill="#d8baec" stroke="#b48ad6" stroke-width="0.35"/>
<line x1="200.90" y1="341.60" x2="200.90" y2="386.30" stroke="#333" stroke-width="0.45"/>
<line x1="200.90" y1="386.30" x2="248.00" y2="386.30" stroke="#333" stroke-width="0.45"/>
<line x1="200.00" y1="386.10" x2="200.90" y2="386.10" stroke="#333" stroke-width="0.35"/>
<text x="199.70" y="387.20" font-size="3.0" text-anchor="end" fill="#222" stroke="#222" stroke-width="0.08" font-weight="normal">0</text>
<line x1="200.00" y1="377.96" x2="200.90" y2="377.96" stroke="#333" stroke-width="0.35"/>
<text x="199.70" y="379.06" font-size="3.0" text-anchor="end" fill="#222" stroke="#222" stroke-width="0.08" font-weight="normal">20</text>
<line x1="200.00" y1="369.82" x2="200.90" y2="369.82" stroke="#333" stroke-width="0.35"/>
<text x="199.70" y="370.92" font-size="3.0" text-anchor="end" fill="#222" stroke="#222" stroke-width="0.08" font-weight="normal">40</text>
<line x1="200.00" y1="361.68" x2="200.90" y2="361.68" stroke="#333" stroke-width="0.35"/>
<text x="199.70" y="362.78" font-size="3.0" text-anchor="end" fill="#222" stroke="#222" stroke-width="0.08" font-weight="normal">60</text>
<line x1="200.00" y1="353.54" x2="200.90" y2="353.54" stroke="#333" stroke-width="0.35"/>
<text x="199.70" y="354.64" font-size="3.0" text-anchor="end" fill="#222" stroke="#222" stroke-width="0.08" font-weight="normal">80</text>
<line x1="200.00" y1="345.40" x2="200.90" y2="345.40" stroke="#333" stroke-width="0.35"/>
<text x="199.70" y="346.50" font-size="3.0" text-anchor="end" fill="#222" stroke="#222" stroke-width="0.08" font-weight="normal">100</text>
<line x1="204.20" y1="386.30" x2="204.20" y2="387.20" stroke="#333" stroke-width="0.35"/>
<text x="204.20" y="390.50" font-size="2.9" text-anchor="middle" fill="#222" stroke="#222" stroke-width="0.08" font-weight="normal">-10<tspan font-size="2.1" dy="-1">3</tspan></text>
<line x1="213.15" y1="386.30" x2="213.15" y2="387.20" stroke="#333" stroke-width="0.35"/>
<text x="213.15" y="390.50" font-size="2.9" text-anchor="middle" fill="#222" stroke="#222" stroke-width="0.08" font-weight="normal">0</text>
<line x1="223.98" y1="386.30" x2="223.98" y2="387.20" stroke="#333" stroke-width="0.35"/>
<text x="223.98" y="390.50" font-size="2.9" text-anchor="middle" fill="#222" stroke="#222" stroke-width="0.08" font-weight="normal">10<tspan font-size="2.1" dy="-1">3</tspan></text>
<line x1="234.81" y1="386.30" x2="234.81" y2="387.20" stroke="#333" stroke-width="0.35"/>
<text x="234.81" y="390.50" font-size="2.9" text-anchor="middle" fill="#222" stroke="#222" stroke-width="0.08" font-weight="normal">10<tspan font-size="2.1" dy="-1">4</tspan></text>
<line x1="245.64" y1="386.30" x2="245.64" y2="387.20" stroke="#333" stroke-width="0.35"/>
<text x="245.64" y="390.50" font-size="2.9" text-anchor="middle" fill="#222" stroke="#222" stroke-width="0.08" font-weight="normal">10<tspan font-size="2.1" dy="-1">5</tspan></text>
<rect x="211.95" y="385.50" width="2.4" height="0.8" fill="#111"/>
<text x="247.20" y="345.20" font-size="3.7" text-anchor="end" fill="#111" stroke="#111" stroke-width="0.12" font-weight="normal">naive</text>
<text x="247.20" y="350.00" font-size="3.7" text-anchor="end" fill="#c9a8e2" stroke="#c9a8e2" stroke-width="0.08" font-weight="normal">7dpi</text>
<text x="247.20" y="355.20" font-size="4.6" text-anchor="end" fill="#a56ad0" stroke="#a56ad0" stroke-width="0.08" font-weight="normal">TMEV</text>
<text x="220.45" y="396.60" font-size="4.6" text-anchor="middle" fill="#111" stroke="#111" stroke-width="0.08" font-weight="normal">Alexa Fluor 700 : H-2K<tspan font-size="2.9" dy="-1.4">b</tspan></text>
<text x="187.00" y="364.95" font-size="4.7" text-anchor="middle" fill="#222" stroke="#222" stroke-width="0.08" font-weight="normal" transform="rotate(-90 187.0 364.95000000000005)">Count normalized</text>
<text x="193.00" y="364.95" font-size="4.7" text-anchor="middle" fill="#222" stroke="#222" stroke-width="0.08" font-weight="normal" transform="rotate(-90 193.0 364.95000000000005)">to mode</text>
<line x1="92.60" y1="341.70" x2="92.60" y2="389.30" stroke="#222" stroke-width="0.45"/>
<line x1="92.60" y1="389.30" x2="114.10" y2="389.30" stroke="#222" stroke-width="0.45"/>
<line x1="91.70" y1="389.30" x2="92.60" y2="389.30" stroke="#222" stroke-width="0.35"/>
<text x="91.30" y="390.40" font-size="3.0" text-anchor="end" fill="#222" stroke="#222" stroke-width="0.08" font-weight="normal">0</text>
<line x1="91.70" y1="379.88" x2="92.60" y2="379.88" stroke="#222" stroke-width="0.35"/>
<text x="91.30" y="380.98" font-size="3.0" text-anchor="end" fill="#222" stroke="#222" stroke-width="0.08" font-weight="normal">20</text>
<line x1="91.70" y1="370.46" x2="92.60" y2="370.46" stroke="#222" stroke-width="0.35"/>
<text x="91.30" y="371.56" font-size="3.0" text-anchor="end" fill="#222" stroke="#222" stroke-width="0.08" font-weight="normal">40</text>
<line x1="91.70" y1="361.04" x2="92.60" y2="361.04" stroke="#222" stroke-width="0.35"/>
<text x="91.30" y="362.14" font-size="3.0" text-anchor="end" fill="#222" stroke="#222" stroke-width="0.08" font-weight="normal">60</text>
<line x1="91.70" y1="351.62" x2="92.60" y2="351.62" stroke="#222" stroke-width="0.35"/>
<text x="91.30" y="352.72" font-size="3.0" text-anchor="end" fill="#222" stroke="#222" stroke-width="0.08" font-weight="normal">80</text>
<line x1="91.70" y1="342.20" x2="92.60" y2="342.20" stroke="#222" stroke-width="0.35"/>
<text x="91.30" y="343.30" font-size="3.0" text-anchor="end" fill="#222" stroke="#222" stroke-width="0.08" font-weight="normal">100</text>
<rect x="95.20" y="388.59" width="7.50" height="0.71" fill="#dcdcdc" stroke="#aaa" stroke-width="0.3"/>
<rect x="105.60" y="342.91" width="7.50" height="46.39" fill="#8e55c4" stroke="#6f35a8" stroke-width="0.35"/>
<circle cx="101.09" cy="388.60" r="0.6" fill="none" stroke="#777" stroke-width="0.3"/>
<circle cx="108.82" cy="343.39" r="0.6" fill="none" stroke="#f4eefa" stroke-width="0.4"/>
<circle cx="99.78" cy="388.44" r="0.6" fill="none" stroke="#777" stroke-width="0.3"/>
<circle cx="109.88" cy="339.59" r="0.6" fill="none" stroke="#f4eefa" stroke-width="0.4"/>
<circle cx="97.05" cy="388.79" r="0.6" fill="none" stroke="#777" stroke-width="0.3"/>
<circle cx="108.24" cy="337.26" r="0.6" fill="none" stroke="#f4eefa" stroke-width="0.4"/>
<circle cx="98.07" cy="388.56" r="0.6" fill="none" stroke="#777" stroke-width="0.3"/>
<circle cx="107.16" cy="353.10" r="0.6" fill="none" stroke="#f4eefa" stroke-width="0.4"/>
<circle cx="97.91" cy="388.50" r="0.6" fill="none" stroke="#777" stroke-width="0.3"/>
<circle cx="110.21" cy="338.83" r="0.6" fill="none" stroke="#f4eefa" stroke-width="0.4"/>
<circle cx="98.01" cy="388.58" r="0.6" fill="none" stroke="#777" stroke-width="0.3"/>
<circle cx="109.19" cy="343.69" r="0.6" fill="none" stroke="#f4eefa" stroke-width="0.4"/>
<circle cx="97.23" cy="388.37" r="0.6" fill="none" stroke="#777" stroke-width="0.3"/>
<circle cx="108.00" cy="331.82" r="0.6" fill="none" stroke="#f4eefa" stroke-width="0.4"/>
<text x="104.15" y="338.00" font-size="3.0" text-anchor="middle" fill="#222" stroke="#222" stroke-width="0.08" font-weight="normal">&lt;0.0001</text>
<text x="100.45" y="392.30" font-size="3.6" text-anchor="end" fill="#222" stroke="#222" stroke-width="0.08" font-weight="normal" transform="rotate(-45 100.45 392.3)">naive</text>
<text x="110.85" y="392.30" font-size="3.6" text-anchor="end" fill="#222" stroke="#222" stroke-width="0.08" font-weight="normal" transform="rotate(-45 110.85 392.3)">7dpi</text>
<text x="77.82" y="366.25" font-size="4.5" text-anchor="middle" fill="#222" stroke="#222" stroke-width="0.08" font-weight="normal" transform="rotate(-90 77.82000000000001 366.25)">% H-2D<tspan font-size="2.8" dy="-1.3">b+</tspan><tspan dy="1.3"> of CNS-resident</tspan></text>
<text x="83.42" y="366.25" font-size="4.5" text-anchor="middle" fill="#222" stroke="#222" stroke-width="0.08" font-weight="normal" transform="rotate(-90 83.42 366.25)">myeloid cells</text>
<line x1="147.20" y1="338.50" x2="147.20" y2="388.80" stroke="#222" stroke-width="0.45"/>
<line x1="147.20" y1="388.80" x2="168.50" y2="388.80" stroke="#222" stroke-width="0.45"/>
<line x1="146.30" y1="388.80" x2="147.20" y2="388.80" stroke="#222" stroke-width="0.35"/>
<text x="145.90" y="389.90" font-size="3.0" text-anchor="end" fill="#222" stroke="#222" stroke-width="0.08" font-weight="normal">0</text>
<line x1="146.30" y1="372.20" x2="147.20" y2="372.20" stroke="#222" stroke-width="0.35"/>
<text x="145.90" y="373.30" font-size="3.0" text-anchor="end" fill="#222" stroke="#222" stroke-width="0.08" font-weight="normal">2</text>
<line x1="146.30" y1="355.60" x2="147.20" y2="355.60" stroke="#222" stroke-width="0.35"/>
<text x="145.90" y="356.70" font-size="3.0" text-anchor="end" fill="#222" stroke="#222" stroke-width="0.08" font-weight="normal">4</text>
<line x1="146.30" y1="339.00" x2="147.20" y2="339.00" stroke="#222" stroke-width="0.35"/>
<text x="145.90" y="340.10" font-size="3.0" text-anchor="end" fill="#222" stroke="#222" stroke-width="0.08" font-weight="normal">6</text>
<rect x="150.00" y="380.50" width="7.50" height="8.30" fill="#dcdcdc" stroke="#aaa" stroke-width="0.3"/>
<rect x="160.00" y="352.69" width="7.50" height="36.11" fill="#8e55c4" stroke="#6f35a8" stroke-width="0.35"/>
<circle cx="155.71" cy="383.70" r="0.6" fill="none" stroke="#777" stroke-width="0.3"/>
<circle cx="163.57" cy="346.92" r="0.6" fill="none" stroke="#f4eefa" stroke-width="0.4"/>
<circle cx="155.86" cy="380.84" r="0.6" fill="none" stroke="#777" stroke-width="0.3"/>
<circle cx="162.71" cy="357.93" r="0.6" fill="none" stroke="#f4eefa" stroke-width="0.4"/>
<circle cx="155.76" cy="382.42" r="0.6" fill="none" stroke="#777" stroke-width="0.3"/>
<circle cx="164.12" cy="359.16" r="0.6" fill="none" stroke="#f4eefa" stroke-width="0.4"/>
<circle cx="153.86" cy="377.49" r="0.6" fill="none" stroke="#777" stroke-width="0.3"/>
<circle cx="162.10" cy="346.91" r="0.6" fill="none" stroke="#f4eefa" stroke-width="0.4"/>
<circle cx="153.79" cy="377.93" r="0.6" fill="none" stroke="#777" stroke-width="0.3"/>
<circle cx="164.67" cy="357.54" r="0.6" fill="none" stroke="#f4eefa" stroke-width="0.4"/>
<circle cx="155.54" cy="380.59" r="0.6" fill="none" stroke="#777" stroke-width="0.3"/>
<circle cx="161.61" cy="361.66" r="0.6" fill="none" stroke="#f4eefa" stroke-width="0.4"/>
<circle cx="153.71" cy="380.83" r="0.6" fill="none" stroke="#777" stroke-width="0.3"/>
<circle cx="162.86" cy="359.18" r="0.6" fill="none" stroke="#f4eefa" stroke-width="0.4"/>
<line x1="163.75" y1="352.69" x2="163.75" y2="346.06" stroke="#8e55c4" stroke-width="0.4"/>
<line x1="162.55" y1="346.06" x2="164.95" y2="346.06" stroke="#8e55c4" stroke-width="0.4"/>
<text x="158.75" y="337.30" font-size="3.0" text-anchor="middle" fill="#222" stroke="#222" stroke-width="0.08" font-weight="normal">&lt;0.0001</text>
<text x="155.25" y="391.80" font-size="3.6" text-anchor="end" fill="#222" stroke="#222" stroke-width="0.08" font-weight="normal" transform="rotate(-45 155.25 391.8)">naive</text>
<text x="165.25" y="391.80" font-size="3.6" text-anchor="end" fill="#222" stroke="#222" stroke-width="0.08" font-weight="normal" transform="rotate(-45 165.25 391.8)">7dpi</text>
<text x="126.85" y="364.40" font-size="4.3" text-anchor="middle" fill="#222" stroke="#222" stroke-width="0.08" font-weight="normal" transform="rotate(-90 126.848 364.4)">normalized mMFI H-2D<tspan font-size="2.8" dy="-1.3">b</tspan><tspan dy="1.3"> on</tspan></text>
<text x="132.95" y="364.40" font-size="4.3" text-anchor="middle" fill="#222" stroke="#222" stroke-width="0.08" font-weight="normal" transform="rotate(-90 132.948 364.4)">CNS-resident myeloid cells</text>
<text x="139.05" y="364.40" font-size="4.3" text-anchor="middle" fill="#222" stroke="#222" stroke-width="0.08" font-weight="normal" transform="rotate(-90 139.048 364.4)">(A.U.)</text>
<line x1="271.40" y1="341.50" x2="271.40" y2="389.30" stroke="#222" stroke-width="0.45"/>
<line x1="271.40" y1="389.30" x2="293.90" y2="389.30" stroke="#222" stroke-width="0.45"/>
<line x1="270.50" y1="389.30" x2="271.40" y2="389.30" stroke="#222" stroke-width="0.35"/>
<text x="270.10" y="390.40" font-size="3.0" text-anchor="end" fill="#222" stroke="#222" stroke-width="0.08" font-weight="normal">0</text>
<line x1="270.50" y1="379.84" x2="271.40" y2="379.84" stroke="#222" stroke-width="0.35"/>
<text x="270.10" y="380.94" font-size="3.0" text-anchor="end" fill="#222" stroke="#222" stroke-width="0.08" font-weight="normal">20</text>
<line x1="270.50" y1="370.38" x2="271.40" y2="370.38" stroke="#222" stroke-width="0.35"/>
<text x="270.10" y="371.48" font-size="3.0" text-anchor="end" fill="#222" stroke="#222" stroke-width="0.08" font-weight="normal">40</text>
<line x1="270.50" y1="360.92" x2="271.40" y2="360.92" stroke="#222" stroke-width="0.35"/>
<text x="270.10" y="362.02" font-size="3.0" text-anchor="end" fill="#222" stroke="#222" stroke-width="0.08" font-weight="normal">60</text>
<line x1="270.50" y1="351.46" x2="271.40" y2="351.46" stroke="#222" stroke-width="0.35"/>
<text x="270.10" y="352.56" font-size="3.0" text-anchor="end" fill="#222" stroke="#222" stroke-width="0.08" font-weight="normal">80</text>
<line x1="270.50" y1="342.00" x2="271.40" y2="342.00" stroke="#222" stroke-width="0.35"/>
<text x="270.10" y="343.10" font-size="3.0" text-anchor="end" fill="#222" stroke="#222" stroke-width="0.08" font-weight="normal">100</text>
<rect x="273.50" y="388.59" width="7.50" height="0.71" fill="#dcdcdc" stroke="#aaa" stroke-width="0.3"/>
<rect x="285.40" y="344.37" width="7.50" height="44.94" fill="#8e55c4" stroke="#6f35a8" stroke-width="0.35"/>
<circle cx="276.55" cy="388.69" r="0.6" fill="none" stroke="#777" stroke-width="0.3"/>
<circle cx="290.68" cy="355.56" r="0.6" fill="none" stroke="#f4eefa" stroke-width="0.4"/>
<circle cx="278.38" cy="388.40" r="0.6" fill="none" stroke="#777" stroke-width="0.3"/>
<circle cx="287.44" cy="334.78" r="0.6" fill="none" stroke="#f4eefa" stroke-width="0.4"/>
<circle cx="278.21" cy="388.36" r="0.6" fill="none" stroke="#777" stroke-width="0.3"/>
<circle cx="288.20" cy="347.24" r="0.6" fill="none" stroke="#f4eefa" stroke-width="0.4"/>
<circle cx="276.77" cy="388.31" r="0.6" fill="none" stroke="#777" stroke-width="0.3"/>
<circle cx="289.55" cy="347.49" r="0.6" fill="none" stroke="#f4eefa" stroke-width="0.4"/>
<circle cx="276.93" cy="388.72" r="0.6" fill="none" stroke="#777" stroke-width="0.3"/>
<circle cx="287.12" cy="353.31" r="0.6" fill="none" stroke="#f4eefa" stroke-width="0.4"/>
<circle cx="278.76" cy="388.71" r="0.6" fill="none" stroke="#777" stroke-width="0.3"/>
<circle cx="291.11" cy="350.00" r="0.6" fill="none" stroke="#f4eefa" stroke-width="0.4"/>
<circle cx="276.20" cy="388.58" r="0.6" fill="none" stroke="#777" stroke-width="0.3"/>
<circle cx="287.75" cy="347.21" r="0.6" fill="none" stroke="#f4eefa" stroke-width="0.4"/>
<text x="283.20" y="336.60" font-size="3.0" text-anchor="middle" fill="#222" stroke="#222" stroke-width="0.08" font-weight="normal">&lt;0.0001</text>
<text x="278.75" y="392.30" font-size="3.6" text-anchor="end" fill="#222" stroke="#222" stroke-width="0.08" font-weight="normal" transform="rotate(-45 278.75 392.3)">naive</text>
<text x="290.65" y="392.30" font-size="3.6" text-anchor="end" fill="#222" stroke="#222" stroke-width="0.08" font-weight="normal" transform="rotate(-45 290.65 392.3)">7dpi</text>
<text x="256.62" y="366.15" font-size="4.5" text-anchor="middle" fill="#222" stroke="#222" stroke-width="0.08" font-weight="normal" transform="rotate(-90 256.62 366.15)">% H-2K<tspan font-size="2.8" dy="-1.3">b+</tspan><tspan dy="1.3"> of CNS-resident</tspan></text>
<text x="262.22" y="366.15" font-size="4.5" text-anchor="middle" fill="#222" stroke="#222" stroke-width="0.08" font-weight="normal" transform="rotate(-90 262.22 366.15)">myeloid cells</text>
<line x1="323.70" y1="338.30" x2="323.70" y2="389.00" stroke="#222" stroke-width="0.45"/>
<line x1="323.70" y1="389.00" x2="348.60" y2="389.00" stroke="#222" stroke-width="0.45"/>
<line x1="322.80" y1="389.00" x2="323.70" y2="389.00" stroke="#222" stroke-width="0.35"/>
<text x="322.40" y="390.10" font-size="3.0" text-anchor="end" fill="#222" stroke="#222" stroke-width="0.08" font-weight="normal">0</text>
<line x1="322.80" y1="376.45" x2="323.70" y2="376.45" stroke="#222" stroke-width="0.35"/>
<text x="322.40" y="377.55" font-size="3.0" text-anchor="end" fill="#222" stroke="#222" stroke-width="0.08" font-weight="normal">2</text>
<line x1="322.80" y1="363.90" x2="323.70" y2="363.90" stroke="#222" stroke-width="0.35"/>
<text x="322.40" y="365.00" font-size="3.0" text-anchor="end" fill="#222" stroke="#222" stroke-width="0.08" font-weight="normal">4</text>
<line x1="322.80" y1="351.35" x2="323.70" y2="351.35" stroke="#222" stroke-width="0.35"/>
<text x="322.40" y="352.45" font-size="3.0" text-anchor="end" fill="#222" stroke="#222" stroke-width="0.08" font-weight="normal">6</text>
<line x1="322.80" y1="338.80" x2="323.70" y2="338.80" stroke="#222" stroke-width="0.35"/>
<text x="322.40" y="339.90" font-size="3.0" text-anchor="end" fill="#222" stroke="#222" stroke-width="0.08" font-weight="normal">8</text>
<rect x="328.10" y="381.47" width="8.80" height="7.53" fill="#dcdcdc" stroke="#aaa" stroke-width="0.3"/>
<rect x="338.80" y="363.90" width="8.80" height="25.10" fill="#8e55c4" stroke="#6f35a8" stroke-width="0.35"/>
<circle cx="335.15" cy="379.16" r="0.6" fill="none" stroke="#777" stroke-width="0.3"/>
<circle cx="345.01" cy="362.26" r="0.6" fill="none" stroke="#f4eefa" stroke-width="0.4"/>
<circle cx="334.90" cy="378.82" r="0.6" fill="none" stroke="#777" stroke-width="0.3"/>
<circle cx="343.49" cy="361.14" r="0.6" fill="none" stroke="#f4eefa" stroke-width="0.4"/>
<circle cx="329.89" cy="380.07" r="0.6" fill="none" stroke="#777" stroke-width="0.3"/>
<circle cx="342.91" cy="360.73" r="0.6" fill="none" stroke="#f4eefa" stroke-width="0.4"/>
<circle cx="333.34" cy="382.76" r="0.6" fill="none" stroke="#777" stroke-width="0.3"/>
<circle cx="340.58" cy="358.54" r="0.6" fill="none" stroke="#f4eefa" stroke-width="0.4"/>
<circle cx="330.34" cy="381.64" r="0.6" fill="none" stroke="#777" stroke-width="0.3"/>
<circle cx="342.29" cy="366.44" r="0.6" fill="none" stroke="#f4eefa" stroke-width="0.4"/>
<circle cx="333.89" cy="378.60" r="0.6" fill="none" stroke="#777" stroke-width="0.3"/>
<circle cx="341.81" cy="361.94" r="0.6" fill="none" stroke="#f4eefa" stroke-width="0.4"/>
<circle cx="331.34" cy="381.12" r="0.6" fill="none" stroke="#777" stroke-width="0.3"/>
<circle cx="342.59" cy="368.07" r="0.6" fill="none" stroke="#f4eefa" stroke-width="0.4"/>
<line x1="343.20" y1="363.90" x2="343.20" y2="355.74" stroke="#8e55c4" stroke-width="0.4"/>
<line x1="342.00" y1="355.74" x2="344.40" y2="355.74" stroke="#8e55c4" stroke-width="0.4"/>
<text x="337.85" y="343.30" font-size="3.0" text-anchor="middle" fill="#222" stroke="#222" stroke-width="0.08" font-weight="normal">&lt;0.0001</text>
<text x="334.00" y="392.00" font-size="3.6" text-anchor="end" fill="#222" stroke="#222" stroke-width="0.08" font-weight="normal" transform="rotate(-45 334.0 392.0)">naive</text>
<text x="344.70" y="392.00" font-size="3.6" text-anchor="end" fill="#222" stroke="#222" stroke-width="0.08" font-weight="normal" transform="rotate(-45 344.7 392.0)">7dpi</text>
<text x="307.55" y="364.40" font-size="4.3" text-anchor="middle" fill="#222" stroke="#222" stroke-width="0.08" font-weight="normal" transform="rotate(-90 307.548 364.4)">normalized mMFI H-2K<tspan font-size="2.8" dy="-1.3">b</tspan><tspan dy="1.3"> on</tspan></text>
<text x="313.05" y="364.40" font-size="4.3" text-anchor="middle" fill="#222" stroke="#222" stroke-width="0.08" font-weight="normal" transform="rotate(-90 313.048 364.4)">CNS-resident myeloid cells</text>
<text x="318.55" y="364.40" font-size="4.3" text-anchor="middle" fill="#222" stroke="#222" stroke-width="0.08" font-weight="normal" transform="rotate(-90 318.548 364.4)">(A.U.)</text>
<line x1="331.50" y1="345.40" x2="343.50" y2="345.40" stroke="#555" stroke-width="0.35"/>
</svg></body></html>
